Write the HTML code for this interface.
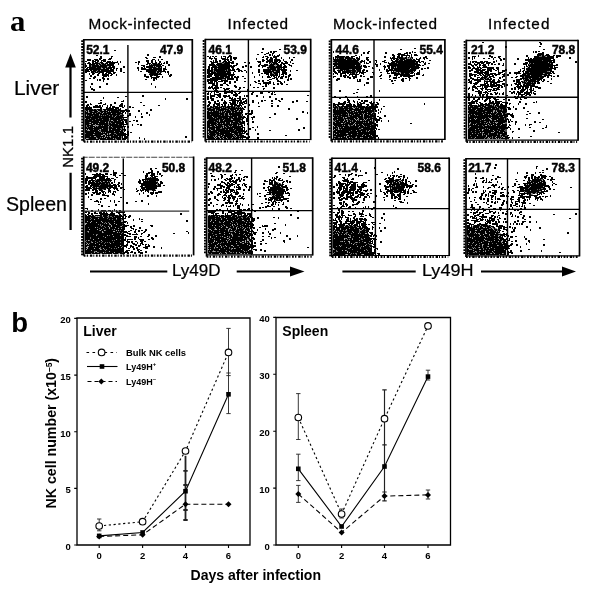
<!DOCTYPE html><html><head><meta charset="utf-8"><style>html,body{margin:0;padding:0;background:#fff;}svg{display:block;will-change:transform;}</style></head><body>
<svg width="600" height="600" viewBox="0 0 600 600">
<rect width="600" height="600" fill="#fff"/>
<path d="M147 55h2M159 57h2M99 59h1M100 58h2M109 59h2M111 58h1M89 60h2M100 59h1M103 60h1M87 60h2M87 60h2M92 61h2M95 60h2M97 60h1M97 61h2M104 60h1M147 61h2M155 61h1M158 60h1M92 62h1M95 61h1M101 61h1M105 61h1M109 62h2M117 62h1M146 61h2M147 62h2M147 62h1M151 61h2M88 63h1M93 63h1M110 63h1M109 63h1M111 63h2M112 62h1M120 62h1M138 62h2M148 62h1M155 63h2M159 62h2M166 62h2M89 64h2M106 63h2M106 64h2M106 64h2M112 63h2M114 63h1M138 64h1M149 64h1M158 64h1M164 63h1M85 64h1M110 65h2M110 64h1M112 65h2M118 64h1M159 64h1M159 65h2M161 64h1M168 65h2M85 66h2M108 65h2M112 65h2M143 66h2M109 67h2M112 66h2M112 66h1M123 67h2M144 66h1M146 67h2M85 67h1M110 68h1M112 67h2M113 68h2M113 67h2M137 68h2M141 68h2M144 67h1M165 67h1M86 69h1M87 68h1M109 68h1M110 69h1M110 68h1M111 68h1M120 69h2M141 69h2M143 69h2M163 69h2M164 69h2M116 70h1M138 70h1M144 69h2M146 70h2M163 69h1M163 70h2M85 71h2M85 70h2M87 71h2M87 71h1M110 70h2M111 71h2M120 71h2M163 70h2M163 70h1M88 71h1M91 72h2M106 72h2M108 71h2M109 72h2M113 71h1M163 71h2M165 72h1M85 72h2M93 73h2M92 73h2M103 73h1M113 73h2M167 72h2M102 74h2M108 73h2M111 74h1M168 74h1M89 74h1M97 75h2M105 74h2M106 75h1M90 76h2M97 75h2M104 75h2M105 76h2M107 75h2M116 75h1M144 75h2M157 75h1M170 75h2M169 76h2M91 76h1M94 77h2M108 76h1M148 77h1M151 77h1M156 77h2M156 77h2M157 76h1M93 78h2M146 77h2M151 78h1M153 78h2M158 77h1M162 77h1M102 78h2M104 79h1M107 79h2M153 79h2M97 80h1M103 80h1M153 80h2M156 79h1M99 80h2M103 81h1M91 84h2M106 84h2M151 84h1M90 87h1M99 87h1M100 87h1M155 87h1M91 89h2M93 90h2M142 96h2M86 97h2M103 98h1M165 99h1M186 99h2M85 102h2M123 101h1M90 104h1M100 103h2M114 103h2M121 104h2M88 105h1M105 104h1M110 105h2M87 105h1M97 106h1M107 106h1M120 105h2M120 106h2M86 106h2M95 106h2M95 107h2M98 107h2M99 106h2M102 106h1M114 107h1M119 106h1M121 106h2M124 106h1M129 107h2M87 108h1M87 108h2M89 107h1M93 107h2M93 107h1M100 108h2M106 108h2M107 108h1M110 107h1M112 108h2M112 107h2M85 108h1M86 108h1M87 108h1M90 109h1M90 108h2M108 109h2M109 108h1M108 109h2M111 109h2M115 108h2M117 108h2M117 108h1M120 109h1M123 111h2M123 111h2M125 110h2M126 111h2M138 111h2M150 110h2M127 111h1M128 111h2M125 113h1M129 114h2M141 114h1M146 113h2M130 114h1M149 115h1M123 116h1M123 116h1M127 116h2M127 116h2M135 117h1M141 117h2M124 120h2M126 120h1M136 121h2M125 122h2M126 124h2M140 125h2M123 125h1M132 125h1M127 127h2M123 127h2M124 129h1M123 131h2M125 130h1M127 132h2M123 133h1M127 133h2M127 135h2M123 135h2M124 137h2M126 137h2M185 137h2M122 138h1M123 139h1M139 138h1M124 139h2M144 139h1" stroke="#000" stroke-width="2" shape-rendering="crispEdges"/>
<path d="M114 50.5h2M96 55.5h2M100 56.5h2M111 56.5h2M145 57.5h2M153 57.5h2M154 57.5h2M94 59.5h2M94 59.5h2M146 58.5h2M153 59.5h2M104 59.5h2M108 59.5h2M151 60.5h2M152 59.5h2M161 59.5h2M89 60.5h2M94 61.5h2M95 60.5h2M102 60.5h2M103 61.5h2M107 61.5h2M85 61.5h2M88 62.5h2M92 62.5h2M135 62.5h2M147 61.5h2M151 62.5h2M108 62.5h2M115 62.5h2M166 63.5h2M166 63.5h2M87 63.5h2M108 64.5h2M110 64.5h2M147 63.5h2M149 63.5h2M160 64.5h2M163 63.5h2M85 65.5h2M111 64.5h2M146 64.5h2M85 66.5h2M109 65.5h2M109 66.5h2M112 65.5h2M141 65.5h2M162 65.5h2M147 66.5h2M108 68.5h2M109 67.5h2M87 69.5h2M112 69.5h2M116 68.5h2M165 69.5h2M87 70.5h2M146 70.5h2M88 71.5h2M110 70.5h2M140 71.5h2M146 71.5h2M163 71.5h2M88 71.5h2M104 71.5h2M123 72.5h2M146 71.5h2M161 71.5h2M97 72.5h2M102 73.5h2M105 73.5h2M110 73.5h2M114 72.5h2M98 73.5h2M111 74.5h2M113 73.5h2M160 74.5h2M92 74.5h2M150 75.5h2M149 74.5h2M102 75.5h2M103 76.5h2M110 75.5h2M150 76.5h2M150 75.5h2M144 76.5h2M152 77.5h2M152 77.5h2M158 76.5h2M155 77.5h2M89 78.5h2M155 78.5h2M155 78.5h2M145 79.5h2M85 80.5h2M117 97.5h2M125 96.5h2M100 100.5h2M121 101.5h2M140 102.5h2M98 103.5h2M90 104.5h2M103 104.5h2M120 104.5h2M143 105.5h2M158 105.5h2M97 106.5h2M99 107.5h2M114 107.5h2M85 107.5h2M86 107.5h2M89 108.5h2M90 107.5h2M96 107.5h2M109 108.5h2M111 108.5h2M117 107.5h2M122 107.5h2M132 107.5h2M122 112.5h2M129 115.5h2M124 117.5h2M125 117.5h2M133 120.5h2M129 121.5h2M124 124.5h2M137 124.5h2M124 126.5h2M130 132.5h2M124 133.5h2M123 134.5h2M125 134.5h2M125 134.5h2M124 135.5h2M125 138.5h2M126 137.5h2M123 138.5h2M123 138.5h2M95 62.5h3M100 62.5h3M92 63.5h8M101 63.5h3M105 63.5h1M152 63.5h5M90 64.5h5M96 64.5h2M99 64.5h2M102 64.5h4M107 64.5h1M151 64.5h1M153 64.5h7M89 65.5h2M92 65.5h7M100 65.5h9M149 65.5h12M89 66.5h2M92 66.5h15M148 66.5h5M154 66.5h1M156 66.5h6M88 67.5h8M97 67.5h4M102 67.5h5M108 67.5h2M148 67.5h8M158 67.5h2M161 67.5h1M89 68.5h12M103 68.5h2M106 68.5h3M149 68.5h3M153 68.5h9M89 69.5h20M148 69.5h14M90 70.5h2M93 70.5h4M98 70.5h2M101 70.5h7M148 70.5h9M158 70.5h4M92 71.5h4M97 71.5h10M148 71.5h8M157 71.5h5M95 72.5h3M99 72.5h5M148 72.5h8M157 72.5h2M160 72.5h1M150 73.5h8M159 73.5h2M150 74.5h10M152 75.5h1M154 75.5h4M85 109.5h8M94 109.5h2M97 109.5h5M103 109.5h14M118 109.5h3M86 110.5h2M89 110.5h8M98 110.5h4M104 110.5h2M107 110.5h16M85 111.5h1M87 111.5h1M89 111.5h3M94 111.5h4M100 111.5h8M109 111.5h1M111 111.5h8M120 111.5h3M85 112.5h3M90 112.5h7M98 112.5h2M101 112.5h2M104 112.5h2M107 112.5h14M122 112.5h1M85 113.5h7M93 113.5h2M96 113.5h6M103 113.5h8M112 113.5h4M117 113.5h6M85 114.5h1M87 114.5h12M100 114.5h7M108 114.5h12M122 114.5h1M85 115.5h1M87 115.5h1M89 115.5h4M94 115.5h5M100 115.5h1M102 115.5h1M104 115.5h1M106 115.5h3M110 115.5h2M113 115.5h3M117 115.5h2M120 115.5h4M85 116.5h6M92 116.5h20M113 116.5h2M116 116.5h7M85 117.5h16M102 117.5h12M115 117.5h9M86 118.5h4M91 118.5h7M99 118.5h10M110 118.5h12M123 118.5h1M85 119.5h3M89 119.5h6M96 119.5h6M103 119.5h6M110 119.5h10M121 119.5h3M85 120.5h7M93 120.5h16M110 120.5h1M113 120.5h4M118 120.5h5M85 121.5h14M100 121.5h8M109 121.5h4M114 121.5h7M122 121.5h2M85 122.5h4M91 122.5h14M106 122.5h2M109 122.5h1M111 122.5h13M85 123.5h7M93 123.5h5M99 123.5h9M109 123.5h2M112 123.5h3M116 123.5h8M85 124.5h4M91 124.5h4M96 124.5h12M109 124.5h9M119 124.5h5M85 125.5h1M87 125.5h6M99 125.5h2M102 125.5h1M104 125.5h5M110 125.5h12M123 125.5h1M85 126.5h1M87 126.5h2M90 126.5h5M96 126.5h1M98 126.5h10M109 126.5h2M112 126.5h12M85 127.5h2M88 127.5h5M94 127.5h14M109 127.5h3M113 127.5h10M85 128.5h17M103 128.5h5M109 128.5h7M117 128.5h3M122 128.5h1M85 129.5h1M87 129.5h1M89 129.5h4M94 129.5h5M101 129.5h7M109 129.5h2M112 129.5h9M122 129.5h2M85 130.5h2M90 130.5h8M99 130.5h1M101 130.5h7M109 130.5h11M121 130.5h2M85 131.5h14M101 131.5h13M115 131.5h8M85 132.5h9M95 132.5h6M102 132.5h1M104 132.5h1M106 132.5h13M120 132.5h4M86 133.5h21M108 133.5h1M111 133.5h3M116 133.5h8M85 134.5h8M95 134.5h8M105 134.5h2M108 134.5h1M110 134.5h6M117 134.5h6M85 135.5h16M103 135.5h2M106 135.5h7M114 135.5h9M85 136.5h5M91 136.5h3M96 136.5h9M106 136.5h1M108 136.5h1M111 136.5h7M119 136.5h2M122 136.5h1M85 137.5h11M97 137.5h3M101 137.5h1M103 137.5h1M105 137.5h5M111 137.5h10M122 137.5h1M85 138.5h1M89 138.5h7M98 138.5h8M107 138.5h6M114 138.5h1M116 138.5h5M122 138.5h1M86 139.5h13M100 139.5h15M117 139.5h4M122 139.5h1" stroke="#000" stroke-width="1" shape-rendering="crispEdges"/>
<path d="M101 64.5h1M152 64.5h1M91 65.5h1M91 66.5h1M96 67.5h1M101 67.5h1M107 67.5h1M156 67.5h1M160 67.5h1M97 70.5h1M156 71.5h1M94 72.5h1M98 72.5h1M161 72.5h1M149 73.5h1M158 73.5h1M153 75.5h1M93 109.5h1M96 109.5h1M117 109.5h1M85 110.5h1M92 111.5h1M99 111.5h1M119 111.5h1M89 112.5h1M97 112.5h1M100 112.5h1M106 112.5h1M95 113.5h1M116 113.5h1M86 114.5h1M107 114.5h1M120 114.5h1M121 114.5h1M88 115.5h1M93 115.5h1M99 115.5h1M101 115.5h1M103 115.5h1M105 115.5h1M109 115.5h1M112 115.5h1M116 115.5h1M119 115.5h1M91 116.5h1M112 116.5h1M101 117.5h1M114 117.5h1M90 118.5h1M98 118.5h1M122 118.5h1M88 119.5h1M95 119.5h1M102 119.5h1M109 119.5h1M120 119.5h1M92 120.5h1M109 120.5h1M108 121.5h1M113 121.5h1M89 122.5h1M110 122.5h1M108 123.5h1M111 123.5h1M108 124.5h1M118 124.5h1M86 125.5h1M95 125.5h1M98 125.5h1M101 125.5h1M109 125.5h1M86 126.5h1M89 126.5h1M97 126.5h1M87 127.5h1M108 127.5h1M112 127.5h1M108 128.5h1M120 128.5h1M121 128.5h1M93 129.5h1M99 129.5h1M121 129.5h1M87 130.5h1M100 130.5h1M123 130.5h1M99 131.5h1M100 131.5h1M103 132.5h1M119 132.5h1M85 133.5h1M107 133.5h1M114 133.5h1M115 133.5h1M94 134.5h1M109 134.5h1M116 134.5h1M113 135.5h1M90 136.5h1M109 136.5h1M121 136.5h1M96 137.5h1M100 137.5h1M110 137.5h1M121 137.5h1M88 138.5h1M97 138.5h1M115 138.5h1M115 139.5h1M116 139.5h1" stroke="#6a6a6a" stroke-width="1" shape-rendering="crispEdges"/>
<path d="M98 62.5h1M99 62.5h1M100 63.5h1M104 63.5h1M157 63.5h1M95 64.5h1M98 64.5h1M106 64.5h1M150 64.5h1M99 65.5h1M107 66.5h1M108 66.5h1M153 66.5h1M155 66.5h1M157 67.5h1M101 68.5h1M102 68.5h1M105 68.5h1M148 68.5h1M152 68.5h1M92 70.5h1M100 70.5h1M157 70.5h1M96 71.5h1M156 72.5h1M159 72.5h1M102 109.5h1M88 110.5h1M97 110.5h1M102 110.5h1M103 110.5h1M106 110.5h1M86 111.5h1M88 111.5h1M93 111.5h1M98 111.5h1M108 111.5h1M110 111.5h1M88 112.5h1M103 112.5h1M121 112.5h1M92 113.5h1M102 113.5h1M111 113.5h1M99 114.5h1M123 114.5h1M86 115.5h1M115 116.5h1M123 116.5h1M85 118.5h1M109 118.5h1M111 120.5h1M112 120.5h1M117 120.5h1M123 120.5h1M99 121.5h1M121 121.5h1M90 122.5h1M105 122.5h1M108 122.5h1M92 123.5h1M98 123.5h1M115 123.5h1M89 124.5h1M90 124.5h1M95 124.5h1M93 125.5h1M94 125.5h1M96 125.5h1M97 125.5h1M103 125.5h1M122 125.5h1M95 126.5h1M108 126.5h1M111 126.5h1M93 127.5h1M123 127.5h1M102 128.5h1M116 128.5h1M123 128.5h1M86 129.5h1M88 129.5h1M100 129.5h1M108 129.5h1M111 129.5h1M88 130.5h1M89 130.5h1M98 130.5h1M108 130.5h1M120 130.5h1M114 131.5h1M123 131.5h1M94 132.5h1M101 132.5h1M105 132.5h1M109 133.5h1M110 133.5h1M93 134.5h1M103 134.5h1M104 134.5h1M107 134.5h1M101 135.5h1M102 135.5h1M105 135.5h1M94 136.5h1M95 136.5h1M105 136.5h1M107 136.5h1M110 136.5h1M118 136.5h1M102 137.5h1M104 137.5h1M86 138.5h1M87 138.5h1M96 138.5h1M106 138.5h1M113 138.5h1M121 138.5h1M85 139.5h1M99 139.5h1M121 139.5h1" stroke="#a8a8a8" stroke-width="1" shape-rendering="crispEdges"/>
<path d="M83.8 39.7H192.3" fill="none" stroke="#000" stroke-width="1.5"/><path d="M192.3 39.0V141.2" fill="none" stroke="#000" stroke-width="1.7"/><path d="M83.8 39.0V141.7" fill="none" stroke="#000" stroke-width="1.8"/><path d="M81.2 41.2h1.9M81.2 44.1h1.9M81.2 47.0h1.9M81.2 49.9h1.9M81.2 52.8h1.9M81.2 55.7h1.9M81.2 58.6h1.9M81.2 61.5h1.9M81.2 64.4h1.9M81.2 67.3h1.9M81.2 70.2h1.9M81.2 73.1h1.9M81.2 76.0h1.9M81.2 78.9h1.9M81.2 81.8h1.9M81.2 84.7h1.9M81.2 87.6h1.9M81.2 90.5h1.9M81.2 93.4h1.9M81.2 96.3h1.9M81.2 99.2h1.9M81.2 102.1h1.9M81.2 105.0h1.9M81.2 107.9h1.9M81.2 110.8h1.9M81.2 113.7h1.9M81.2 116.6h1.9M81.2 119.5h1.9M81.2 122.4h1.9M81.2 125.3h1.9M81.2 128.2h1.9M81.2 131.1h1.9M81.2 134.0h1.9M81.2 136.9h1.9M81.2 139.8h1.9" stroke="#000" stroke-width="1.8"/><path d="M83.8 141.7H191.3" fill="none" stroke="#000" stroke-width="2.2" stroke-dasharray="1.8 1.2 1.4 1.8 2.4 1 1 1.6"/><path d="M127.9 45V140.6" fill="none" stroke="#000" stroke-width="1.4"/><path d="M83.8 92.4H192.3" fill="none" stroke="#000" stroke-width="1.4"/>
<text x="86.2" y="54" font-size="12" font-weight="bold" font-family='"Liberation Sans", sans-serif' stroke="#000" stroke-width="0.45">52.1</text>
<text x="159.9" y="54" font-size="12" font-weight="bold" font-family='"Liberation Sans", sans-serif' stroke="#000" stroke-width="0.45">47.9</text>
<path d="M262 49h2M270 52h2M268 53h1M273 52h2M272 55h1M269 55h2M279 55h1M228 57h1M229 56h2M263 57h1M263 57h1M275 57h2M274 56h1M277 56h2M210 57h1M214 58h1M221 57h1M225 57h1M227 58h1M230 58h1M230 57h2M235 58h2M270 58h2M273 57h2M209 58h2M211 59h1M216 59h1M225 58h1M233 58h2M270 59h2M272 59h1M275 59h2M281 58h1M289 58h1M215 59h2M222 59h2M224 59h2M227 59h1M230 60h2M234 59h2M256 59h1M262 60h2M266 59h2M270 59h1M271 60h1M271 60h2M283 60h1M213 61h1M224 61h2M227 60h2M262 60h2M262 61h2M269 60h2M275 61h2M276 60h1M277 61h1M278 60h2M291 60h2M215 62h2M219 61h2M223 62h2M223 62h2M225 62h2M266 62h2M266 62h2M270 61h2M270 62h2M272 61h1M274 61h2M276 61h2M285 62h2M290 62h1M215 62h2M217 62h1M228 63h2M228 62h2M232 62h2M258 62h2M259 62h2M269 63h2M281 63h2M287 63h1M226 63h2M229 64h1M229 64h1M236 64h2M249 63h1M260 63h1M282 63h1M283 64h2M209 65h2M210 65h1M211 64h2M213 65h2M213 64h1M266 65h2M280 65h2M228 65h2M230 66h1M233 66h2M263 66h2M284 66h2M291 66h1M209 66h1M213 66h2M230 66h2M231 67h1M245 66h2M250 67h2M258 66h2M264 66h2M283 67h1M285 67h2M208 68h2M208 67h1M212 67h2M242 67h2M262 67h1M281 67h1M284 67h1M211 68h2M232 68h2M281 69h1M211 69h2M211 70h1M232 70h2M233 70h2M238 70h2M259 70h1M266 70h2M284 70h1M285 70h1M207 70h1M209 71h1M211 71h2M238 71h2M258 70h2M263 70h2M264 71h1M264 70h2M281 70h2M282 71h1M285 70h2M284 71h1M285 71h1M290 71h1M209 71h2M258 72h2M263 71h1M265 72h2M282 72h2M283 71h1M207 72h2M207 72h2M246 72h1M264 73h1M267 72h2M279 73h1M282 73h2M285 73h1M285 73h2M209 74h1M211 73h2M233 73h1M252 73h1M266 74h2M265 73h1M268 74h1M282 74h2M283 73h2M285 74h1M286 74h1M209 74h2M208 75h1M209 75h1M211 75h1M211 75h1M230 75h1M259 75h1M266 74h1M270 75h1M271 75h1M275 74h2M276 75h2M289 75h2M208 76h2M210 75h2M232 75h2M268 75h1M271 75h2M275 75h2M279 75h1M283 75h1M288 76h2M207 76h2M207 77h1M208 77h2M210 76h2M229 76h1M229 77h1M237 77h2M254 77h1M268 77h2M271 76h1M273 76h2M276 76h1M278 77h1M285 77h2M215 78h2M215 78h2M229 77h1M231 77h2M236 78h2M262 77h1M267 77h1M268 77h2M281 77h1M210 79h2M212 79h2M213 79h2M214 79h2M214 78h2M215 78h2M227 78h2M228 79h2M230 79h2M276 79h1M280 78h1M281 78h2M288 78h1M207 80h2M212 80h2M212 79h1M216 80h2M227 80h1M227 79h1M230 79h1M232 79h2M276 79h1M276 79h1M277 79h1M290 79h2M209 80h2M211 81h1M222 81h1M236 80h2M258 81h2M287 80h2M207 81h1M210 82h1M211 81h2M211 82h1M212 82h1M214 82h1M216 82h1M221 81h2M224 82h1M225 81h1M226 81h2M235 82h1M269 82h2M277 81h2M208 83h2M212 83h1M224 83h2M229 82h2M229 82h1M234 82h1M263 83h1M267 83h2M270 83h1M273 83h1M280 83h1M284 82h1M210 83h2M216 84h2M224 83h2M260 84h1M264 83h1M280 83h2M281 84h2M213 85h2M221 85h2M250 85h1M268 84h1M277 84h2M212 85h2M216 85h2M220 85h2M234 86h2M265 86h2M209 87h1M211 87h2M212 88h1M214 88h2M215 87h1M216 87h2M235 87h2M273 88h2M209 88h2M215 89h2M217 88h2M226 89h2M239 88h2M213 89h1M224 90h2M225 90h1M263 89h1M214 91h2M215 90h1M215 90h1M247 90h2M211 92h1M216 91h2M225 91h1M226 92h2M228 92h2M229 91h1M230 92h2M268 92h1M272 92h1M274 92h1M208 93h1M214 93h1M217 92h1M218 92h1M224 92h1M224 93h2M226 92h2M234 92h2M260 93h2M261 93h2M269 92h1M207 94h2M210 94h1M231 93h2M271 94h2M210 95h1M218 95h1M217 95h2M219 94h2M219 95h1M220 95h1M233 95h1M235 94h2M236 95h2M251 94h2M211 96h2M213 96h2M223 96h2M226 96h1M235 96h2M234 95h1M244 96h1M246 96h2M256 96h2M207 97h2M210 96h2M210 97h2M218 96h2M219 97h2M225 96h2M226 96h1M263 97h1M269 97h2M229 98h2M239 97h2M207 99h2M211 99h2M212 99h2M222 99h1M231 99h2M232 98h1M239 98h2M243 99h1M281 99h2M213 100h1M232 100h2M231 100h1M234 100h2M242 99h2M246 100h1M275 99h2M221 100h2M224 101h1M237 101h2M239 100h2M245 101h1M261 101h2M208 102h2M215 102h1M217 101h2M240 101h2M243 102h2M245 101h2M252 102h2M271 101h2M296 101h2M209 103h1M210 103h1M210 103h1M214 102h2M215 102h1M223 103h2M232 102h2M234 102h2M241 102h1M241 103h2M244 103h1M292 102h2M219 103h1M224 103h1M225 103h2M230 104h2M230 103h1M231 104h1M237 103h1M239 103h2M246 103h1M258 103h1M213 105h1M216 104h2M217 105h2M231 105h2M232 104h2M234 105h2M249 105h1M207 106h2M209 105h1M214 105h1M218 106h2M222 105h1M224 105h2M228 105h1M228 106h1M234 105h1M235 105h2M236 106h2M239 105h2M271 106h2M207 106h1M208 106h1M238 106h2M241 106h1M277 106h2M242 108h1M244 107h2M288 109h2M242 109h2M243 109h1M248 111h2M242 112h1M251 111h2M251 111h1M242 112h1M251 113h2M302 112h2M307 113h1M245 114h1M249 114h2M250 114h2M274 114h2M247 116h2M243 117h1M253 117h2M243 118h1M244 117h1M247 118h2M246 119h2M252 119h1M296 119h2M246 120h2M243 122h2M242 122h1M248 122h1M252 122h2M243 123h2M244 124h1M244 125h1M257 127h1M244 129h1M303 128h2M249 129h2M243 131h2M242 131h1M255 130h1M298 130h2M246 131h1M244 132h2M242 135h1M257 134h2M242 137h2M243 137h2M244 137h2M249 137h1M246 138h2M257 138h2" stroke="#000" stroke-width="2" shape-rendering="crispEdges"/>
<path d="M279 49.5h2M275 51.5h2M261 52.5h2M266 53.5h2M272 53.5h2M264 54.5h2M257 54.5h2M207 56.5h2M228 56.5h2M212 56.5h2M215 56.5h2M223 56.5h2M227 57.5h2M262 57.5h2M265 56.5h2M266 56.5h2M267 57.5h2M293 57.5h2M221 58.5h2M275 57.5h2M211 58.5h2M225 59.5h2M230 58.5h2M277 59.5h2M277 59.5h2M215 60.5h2M267 60.5h2M271 59.5h2M274 59.5h2M279 60.5h2M279 60.5h2M210 61.5h2M257 61.5h2M259 61.5h2M263 60.5h2M267 60.5h2M269 61.5h2M269 60.5h2M278 60.5h2M279 61.5h2M228 62.5h2M244 62.5h2M268 61.5h2M278 62.5h2M284 61.5h2M211 62.5h2M213 62.5h2M226 62.5h2M228 63.5h2M230 62.5h2M231 63.5h2M232 63.5h2M285 63.5h2M286 63.5h2M292 63.5h2M212 64.5h2M281 63.5h2M210 65.5h2M211 65.5h2M228 64.5h2M259 64.5h2M264 64.5h2M284 65.5h2M288 64.5h2M233 65.5h2M235 65.5h2M261 65.5h2M265 65.5h2M279 66.5h2M289 65.5h2M230 66.5h2M231 66.5h2M242 67.5h2M231 67.5h2M237 68.5h2M281 67.5h2M208 69.5h2M280 68.5h2M282 69.5h2M283 68.5h2M231 70.5h2M236 69.5h2M280 69.5h2M208 70.5h2M230 70.5h2M232 70.5h2M234 71.5h2M240 70.5h2M244 70.5h2M284 71.5h2M296 70.5h2M207 71.5h2M209 71.5h2M241 71.5h2M258 72.5h2M263 71.5h2M207 73.5h2M207 73.5h2M208 72.5h2M212 72.5h2M211 72.5h2M229 73.5h2M207 73.5h2M210 73.5h2M210 74.5h2M211 74.5h2M229 73.5h2M233 74.5h2M261 73.5h2M281 74.5h2M207 75.5h2M231 75.5h2M232 74.5h2M231 74.5h2M272 75.5h2M275 75.5h2M207 76.5h2M242 76.5h2M212 77.5h2M213 77.5h2M234 77.5h2M234 76.5h2M274 77.5h2M278 76.5h2M282 76.5h2M227 77.5h2M228 78.5h2M244 78.5h2M269 77.5h2M272 78.5h2M274 77.5h2M275 77.5h2M276 78.5h2M214 78.5h2M225 78.5h2M270 79.5h2M273 78.5h2M276 78.5h2M214 80.5h2M223 80.5h2M225 80.5h2M230 79.5h2M262 80.5h2M267 80.5h2M269 79.5h2M212 80.5h2M214 81.5h2M216 80.5h2M220 81.5h2M222 80.5h2M254 81.5h2M262 80.5h2M279 81.5h2M207 81.5h2M216 82.5h2M218 81.5h2M244 81.5h2M255 82.5h2M262 81.5h2M264 82.5h2M213 83.5h2M229 83.5h2M265 82.5h2M223 83.5h2M226 84.5h2M258 83.5h2M265 83.5h2M265 83.5h2M268 83.5h2M273 84.5h2M286 84.5h2M265 84.5h2M215 85.5h2M227 85.5h2M262 86.5h2M208 87.5h2M253 87.5h2M208 88.5h2M220 87.5h2M228 88.5h2M243 87.5h2M257 87.5h2M263 88.5h2M223 88.5h2M226 89.5h2M227 89.5h2M226 89.5h2M231 90.5h2M238 89.5h2M215 90.5h2M219 91.5h2M252 92.5h2M216 92.5h2M231 93.5h2M235 93.5h2M239 92.5h2M238 93.5h2M214 94.5h2M216 94.5h2M225 93.5h2M274 94.5h2M211 95.5h2M226 96.5h2M228 95.5h2M307 95.5h2M207 96.5h2M224 97.5h2M228 96.5h2M210 98.5h2M216 97.5h2M237 98.5h2M239 97.5h2M234 98.5h2M244 98.5h2M229 100.5h2M234 99.5h2M252 100.5h2M264 100.5h2M278 100.5h2M211 100.5h2M235 100.5h2M279 101.5h2M306 101.5h2M224 101.5h2M279 101.5h2M218 103.5h2M229 102.5h2M233 103.5h2M234 103.5h2M241 102.5h2M214 103.5h2M214 103.5h2M218 104.5h2M221 104.5h2M224 103.5h2M235 104.5h2M242 104.5h2M244 103.5h2M271 103.5h2M208 104.5h2M216 104.5h2M208 105.5h2M258 106.5h2M243 109.5h2M246 113.5h2M245 114.5h2M244 117.5h2M247 117.5h2M251 117.5h2M269 117.5h2M243 121.5h2M246 121.5h2M243 121.5h2M247 123.5h2M247 124.5h2M243 127.5h2M252 127.5h2M269 130.5h2M244 132.5h2M243 133.5h2M246 133.5h2M242 135.5h2M246 134.5h2M285 135.5h2M243 137.5h2M222 62.5h2M272 62.5h5M217 63.5h5M224 63.5h3M271 63.5h1M273 63.5h5M216 64.5h12M270 64.5h5M276 64.5h3M215 65.5h1M217 65.5h12M269 65.5h5M277 65.5h3M214 66.5h3M218 66.5h12M269 66.5h6M276 66.5h4M214 67.5h16M267 67.5h14M214 68.5h3M218 68.5h12M268 68.5h1M270 68.5h6M277 68.5h3M214 69.5h13M228 69.5h3M268 69.5h8M277 69.5h3M214 70.5h11M226 70.5h1M228 70.5h3M268 70.5h3M272 70.5h8M214 71.5h1M216 71.5h14M268 71.5h6M276 71.5h4M213 72.5h3M217 72.5h9M227 72.5h4M269 72.5h3M273 72.5h6M213 73.5h17M270 73.5h2M274 73.5h4M214 74.5h16M272 74.5h2M275 74.5h1M214 75.5h13M228 75.5h2M215 76.5h4M220 76.5h9M216 77.5h8M225 77.5h3M217 78.5h9M218 79.5h4M225 79.5h1M210 106.5h2M213 106.5h5M219 106.5h1M221 106.5h5M227 106.5h6M234 106.5h1M237 106.5h1M210 107.5h4M215 107.5h7M223 107.5h1M225 107.5h5M231 107.5h4M236 107.5h1M238 107.5h1M240 107.5h1M207 108.5h4M213 108.5h7M221 108.5h5M228 108.5h15M207 109.5h8M216 109.5h13M230 109.5h6M237 109.5h2M240 109.5h2M208 110.5h7M216 110.5h1M218 110.5h6M225 110.5h1M227 110.5h3M231 110.5h3M235 110.5h3M239 110.5h4M207 111.5h2M211 111.5h1M213 111.5h6M220 111.5h1M222 111.5h1M224 111.5h7M232 111.5h5M239 111.5h1M241 111.5h2M207 112.5h12M220 112.5h1M222 112.5h3M226 112.5h5M232 112.5h2M235 112.5h8M207 113.5h17M225 113.5h3M229 113.5h13M207 114.5h3M211 114.5h8M220 114.5h4M225 114.5h3M229 114.5h12M242 114.5h1M207 115.5h14M222 115.5h2M225 115.5h3M230 115.5h1M232 115.5h9M242 115.5h1M207 116.5h5M213 116.5h24M238 116.5h4M207 117.5h6M214 117.5h3M218 117.5h10M229 117.5h4M234 117.5h3M238 117.5h5M207 118.5h8M216 118.5h6M223 118.5h8M232 118.5h9M242 118.5h1M209 119.5h10M220 119.5h4M225 119.5h6M233 119.5h10M208 120.5h9M218 120.5h1M220 120.5h3M224 120.5h16M242 120.5h1M207 121.5h7M215 121.5h4M220 121.5h13M235 121.5h6M242 121.5h1M207 122.5h9M217 122.5h8M226 122.5h4M231 122.5h7M239 122.5h4M207 123.5h10M218 123.5h2M221 123.5h1M223 123.5h2M226 123.5h4M231 123.5h1M233 123.5h6M240 123.5h3M207 124.5h3M211 124.5h5M217 124.5h20M238 124.5h4M207 125.5h7M215 125.5h2M218 125.5h4M224 125.5h4M229 125.5h3M233 125.5h4M238 125.5h1M241 125.5h2M207 126.5h3M212 126.5h3M216 126.5h7M224 126.5h1M226 126.5h3M230 126.5h1M232 126.5h11M207 127.5h14M222 127.5h1M224 127.5h2M227 127.5h14M242 127.5h1M207 128.5h1M209 128.5h6M216 128.5h4M222 128.5h11M234 128.5h9M207 129.5h1M209 129.5h1M211 129.5h4M216 129.5h9M226 129.5h2M229 129.5h6M236 129.5h7M207 130.5h4M213 130.5h21M235 130.5h8M207 131.5h1M209 131.5h8M218 131.5h19M238 131.5h5M207 132.5h1M209 132.5h10M220 132.5h10M231 132.5h10M242 132.5h1M207 133.5h2M210 133.5h5M216 133.5h16M234 133.5h4M239 133.5h4M207 134.5h1M209 134.5h7M217 134.5h2M220 134.5h4M225 134.5h9M235 134.5h3M239 134.5h3M207 135.5h2M210 135.5h5M217 135.5h4M222 135.5h11M234 135.5h1M236 135.5h7M207 136.5h6M214 136.5h1M216 136.5h2M220 136.5h3M224 136.5h10M235 136.5h1M237 136.5h2M240 136.5h3M207 137.5h7M215 137.5h1M217 137.5h2M220 137.5h2M223 137.5h3M227 137.5h5M233 137.5h2M236 137.5h7M208 138.5h7M216 138.5h4M221 138.5h2M224 138.5h3M228 138.5h3M232 138.5h7M240 138.5h1M242 138.5h1" stroke="#000" stroke-width="1" shape-rendering="crispEdges"/>
<path d="M220 62.5h1M224 62.5h1M271 62.5h1M222 63.5h1M223 63.5h1M275 64.5h1M216 65.5h1M275 66.5h1M267 68.5h1M269 68.5h1M280 68.5h1M213 69.5h1M227 69.5h1M225 70.5h1M227 70.5h1M213 71.5h1M215 71.5h1M230 71.5h1M275 71.5h1M216 72.5h1M272 73.5h1M273 73.5h1M274 74.5h1M222 79.5h1M224 79.5h1M233 106.5h1M235 106.5h1M207 107.5h1M209 107.5h1M214 107.5h1M224 107.5h1M230 107.5h1M235 107.5h1M237 107.5h1M239 107.5h1M211 108.5h1M212 108.5h1M226 108.5h1M227 108.5h1M242 109.5h1M217 110.5h1M226 110.5h1M230 110.5h1M238 110.5h1M210 111.5h1M219 111.5h1M223 111.5h1M231 111.5h1M238 111.5h1M219 112.5h1M221 112.5h1M234 112.5h1M224 113.5h1M210 114.5h1M219 114.5h1M224 114.5h1M241 114.5h1M221 115.5h1M224 115.5h1M228 115.5h1M231 115.5h1M241 115.5h1M242 116.5h1M217 117.5h1M237 117.5h1M215 118.5h1M222 118.5h1M231 118.5h1M241 118.5h1M208 119.5h1M219 119.5h1M224 119.5h1M217 120.5h1M240 120.5h1M214 121.5h1M234 121.5h1M216 122.5h1M238 122.5h1M220 123.5h1M225 123.5h1M232 123.5h1M239 123.5h1M216 124.5h1M237 124.5h1M222 125.5h1M228 125.5h1M211 126.5h1M223 126.5h1M231 126.5h1M221 127.5h1M226 127.5h1M220 128.5h1M221 128.5h1M208 129.5h1M210 129.5h1M225 129.5h1M235 129.5h1M212 130.5h1M234 130.5h1M217 131.5h1M237 131.5h1M241 132.5h1M209 133.5h1M215 133.5h1M238 133.5h1M216 134.5h1M219 134.5h1M234 134.5h1M238 134.5h1M209 135.5h1M215 135.5h1M213 136.5h1M234 136.5h1M239 136.5h1M222 137.5h1M235 137.5h1M207 138.5h1M227 138.5h1M231 138.5h1" stroke="#6a6a6a" stroke-width="1" shape-rendering="crispEdges"/>
<path d="M219 62.5h1M221 62.5h1M270 63.5h1M272 63.5h1M269 64.5h1M268 65.5h1M274 65.5h1M275 65.5h1M276 65.5h1M217 66.5h1M268 66.5h1M217 68.5h1M276 68.5h1M276 69.5h1M213 70.5h1M271 70.5h1M274 71.5h1M226 72.5h1M272 72.5h1M227 75.5h1M219 76.5h1M224 77.5h1M226 78.5h1M223 79.5h1M212 106.5h1M218 106.5h1M220 106.5h1M226 106.5h1M236 106.5h1M208 107.5h1M222 107.5h1M241 107.5h1M220 108.5h1M215 109.5h1M229 109.5h1M236 109.5h1M239 109.5h1M207 110.5h1M215 110.5h1M224 110.5h1M234 110.5h1M209 111.5h1M212 111.5h1M221 111.5h1M237 111.5h1M240 111.5h1M225 112.5h1M231 112.5h1M228 113.5h1M242 113.5h1M228 114.5h1M229 115.5h1M212 116.5h1M237 116.5h1M213 117.5h1M228 117.5h1M233 117.5h1M207 119.5h1M231 119.5h1M232 119.5h1M207 120.5h1M219 120.5h1M223 120.5h1M241 120.5h1M219 121.5h1M233 121.5h1M241 121.5h1M225 122.5h1M230 122.5h1M217 123.5h1M222 123.5h1M230 123.5h1M210 124.5h1M242 124.5h1M214 125.5h1M217 125.5h1M223 125.5h1M232 125.5h1M237 125.5h1M239 125.5h1M240 125.5h1M210 126.5h1M215 126.5h1M225 126.5h1M229 126.5h1M223 127.5h1M241 127.5h1M208 128.5h1M215 128.5h1M233 128.5h1M215 129.5h1M228 129.5h1M211 130.5h1M208 131.5h1M208 132.5h1M219 132.5h1M230 132.5h1M232 133.5h1M233 133.5h1M208 134.5h1M224 134.5h1M242 134.5h1M216 135.5h1M221 135.5h1M233 135.5h1M235 135.5h1M215 136.5h1M218 136.5h1M219 136.5h1M223 136.5h1M236 136.5h1M214 137.5h1M216 137.5h1M219 137.5h1M226 137.5h1M232 137.5h1M215 138.5h1M220 138.5h1M223 138.5h1M239 138.5h1M241 138.5h1" stroke="#a8a8a8" stroke-width="1" shape-rendering="crispEdges"/>
<path d="M205.3 39.5H310.7" fill="none" stroke="#000" stroke-width="1.5"/><path d="M310.7 38.8V140.1" fill="none" stroke="#000" stroke-width="1.7"/><path d="M205.3 38.8V141.5" fill="none" stroke="#000" stroke-width="1.8"/><path d="M202.70000000000002 41.0h1.9M202.70000000000002 43.9h1.9M202.70000000000002 46.8h1.9M202.70000000000002 49.7h1.9M202.70000000000002 52.6h1.9M202.70000000000002 55.5h1.9M202.70000000000002 58.4h1.9M202.70000000000002 61.3h1.9M202.70000000000002 64.2h1.9M202.70000000000002 67.1h1.9M202.70000000000002 70.0h1.9M202.70000000000002 72.9h1.9M202.70000000000002 75.8h1.9M202.70000000000002 78.7h1.9M202.70000000000002 81.6h1.9M202.70000000000002 84.5h1.9M202.70000000000002 87.4h1.9M202.70000000000002 90.3h1.9M202.70000000000002 93.2h1.9M202.70000000000002 96.1h1.9M202.70000000000002 99.0h1.9M202.70000000000002 101.9h1.9M202.70000000000002 104.8h1.9M202.70000000000002 107.7h1.9M202.70000000000002 110.6h1.9M202.70000000000002 113.5h1.9M202.70000000000002 116.4h1.9M202.70000000000002 119.3h1.9M202.70000000000002 122.2h1.9M202.70000000000002 125.1h1.9M202.70000000000002 128.0h1.9M202.70000000000002 130.9h1.9M202.70000000000002 133.8h1.9M202.70000000000002 136.7h1.9" stroke="#000" stroke-width="1.8"/><path d="M205.3 139.5H310.7" fill="none" stroke="#000" stroke-width="1.2"/><path d="M205.3 141.5H309.7" fill="none" stroke="#000" stroke-width="2.2" stroke-dasharray="1.8 1.2 1.4 1.8 2.4 1 1 1.6"/><path d="M248.4 39.5V139.5" fill="none" stroke="#000" stroke-width="1.4"/><path d="M205.3 91.4H310.7" fill="none" stroke="#000" stroke-width="1.4"/>
<text x="208.5" y="53.6" font-size="12" font-weight="bold" font-family='"Liberation Sans", sans-serif' stroke="#000" stroke-width="0.45">46.1</text>
<text x="283.5" y="53.6" font-size="12" font-weight="bold" font-family='"Liberation Sans", sans-serif' stroke="#000" stroke-width="0.45">53.9</text>
<path d="M333 52h1M363 53h2M367 53h2M409 53h2M412 52h1M385 53h2M399 54h2M361 55h1M392 55h2M398 54h1M407 55h1M401 56h2M401 55h1M404 55h1M406 56h1M409 56h1M411 56h1M411 55h1M416 55h1M335 57h2M337 56h2M337 56h1M338 57h2M384 57h2M393 56h2M393 56h2M425 57h2M333 58h1M335 57h2M356 58h2M356 58h2M359 57h1M390 58h1M392 58h1M397 57h2M399 58h1M398 57h2M411 58h2M425 57h2M366 59h1M366 59h2M393 58h2M396 59h1M416 59h1M420 58h1M423 58h2M424 59h1M391 59h1M394 59h1M416 59h1M418 60h1M418 60h2M333 60h2M358 61h1M361 61h2M364 61h1M367 60h2M333 61h1M418 61h2M333 62h2M364 63h1M366 63h1M369 62h2M376 62h1M384 62h1M392 62h2M417 62h1M423 62h1M425 63h1M388 63h1M375 64h1M376 65h2M380 64h1M389 64h2M418 65h1M424 64h2M363 66h1M387 66h2M389 65h2M418 66h1M364 67h2M384 66h1M388 67h2M333 67h1M333 68h1M365 67h2M372 68h1M384 67h2M388 68h1M389 68h1M417 68h1M427 68h2M334 69h1M333 69h2M360 68h2M417 68h2M363 70h2M384 69h1M386 70h2M390 70h1M389 69h1M421 69h2M333 71h2M334 70h1M339 71h2M360 70h1M362 71h2M379 70h1M391 70h2M419 71h1M342 72h1M366 71h2M393 72h2M334 72h2M338 72h1M339 72h2M339 72h2M343 73h2M343 73h2M342 73h1M343 73h2M359 73h1M361 73h2M387 73h1M391 72h1M418 73h1M419 73h1M335 73h2M337 74h1M347 73h2M362 73h2M363 74h1M391 73h2M414 74h1M416 74h2M417 73h2M418 74h2M333 74h1M345 74h1M351 74h2M353 74h1M354 74h2M355 75h1M373 74h1M381 75h1M396 75h2M398 74h2M409 75h1M416 74h1M340 75h2M349 75h1M352 76h1M356 75h1M360 76h2M380 76h1M389 76h2M394 75h2M396 75h2M405 76h2M405 76h2M408 75h2M411 76h2M423 75h1M333 77h1M340 76h2M343 76h2M344 77h2M347 77h2M353 77h2M370 77h2M371 77h2M389 77h1M400 76h2M403 76h2M403 76h2M407 76h1M349 78h2M355 77h2M393 78h1M395 78h2M396 77h1M408 77h2M416 78h2M417 78h1M337 79h2M339 79h1M393 78h2M359 80h2M367 79h2M401 80h1M402 79h2M403 79h1M336 80h2M357 80h1M359 81h2M391 81h2M409 80h1M402 81h2M366 83h1M367 83h2M364 85h1M339 91h2M379 91h1M370 96h2M345 97h2M347 98h1M357 97h1M347 98h1M347 100h2M348 101h2M361 101h2M364 101h2M379 100h1M353 101h1M366 101h2M343 103h1M344 102h2M354 102h1M357 102h1M363 103h2M371 102h1M338 103h2M341 104h2M343 103h2M370 103h2M333 104h1M333 104h2M342 105h1M346 105h2M350 105h2M359 105h2M360 104h2M368 105h1M371 104h2M371 104h1M375 105h2M377 104h2M424 104h1M334 106h2M335 106h1M337 106h2M337 105h2M343 105h1M347 105h1M348 105h2M353 105h2M355 106h1M357 105h2M367 106h2M371 105h2M373 105h1M371 107h2M374 107h2M374 107h1M376 107h2M373 107h1M374 109h2M381 109h1M378 110h1M373 111h1M375 111h2M380 112h1M378 113h1M374 115h2M374 116h2M384 116h2M373 116h1M379 118h2M374 119h1M375 118h1M375 120h1M378 120h2M376 121h2M388 121h1M376 122h2M381 121h1M374 125h2M373 127h2M373 126h1M377 126h1M374 127h2M376 129h1M374 129h1M374 131h2M375 133h1M373 133h2M374 135h2M374 136h2M376 136h2M374 138h2M374 138h2M373 138h1M378 138h1" stroke="#000" stroke-width="2" shape-rendering="crispEdges"/>
<path d="M414 48.5h2M400 49.5h2M368 51.5h2M406 52.5h2M414 52.5h2M397 54.5h2M404 53.5h2M406 53.5h2M414 54.5h2M402 54.5h2M404 55.5h2M416 55.5h2M351 56.5h2M353 56.5h2M355 55.5h2M392 55.5h2M398 55.5h2M403 55.5h2M408 55.5h2M414 55.5h2M358 58.5h2M367 57.5h2M366 57.5h2M396 58.5h2M419 58.5h2M357 59.5h2M358 59.5h2M394 58.5h2M395 58.5h2M426 58.5h2M384 60.5h2M391 60.5h2M391 60.5h2M393 59.5h2M416 59.5h2M417 59.5h2M418 59.5h2M429 60.5h2M375 60.5h2M392 61.5h2M421 61.5h2M360 61.5h2M360 62.5h2M363 61.5h2M382 61.5h2M385 62.5h2M391 62.5h2M392 62.5h2M419 62.5h2M367 63.5h2M391 62.5h2M390 63.5h2M428 63.5h2M389 63.5h2M388 63.5h2M390 64.5h2M388 65.5h2M389 64.5h2M418 64.5h2M422 65.5h2M364 65.5h2M368 66.5h2M383 66.5h2M419 65.5h2M365 66.5h2M376 66.5h2M384 67.5h2M418 67.5h2M335 67.5h2M335 68.5h2M335 68.5h2M365 67.5h2M372 68.5h2M386 69.5h2M424 68.5h2M339 69.5h2M359 69.5h2M388 70.5h2M392 70.5h2M337 70.5h2M359 71.5h2M386 71.5h2M387 71.5h2M333 71.5h2M372 72.5h2M393 71.5h2M336 73.5h2M344 72.5h2M359 72.5h2M364 72.5h2M380 72.5h2M388 73.5h2M393 73.5h2M340 73.5h2M344 73.5h2M352 74.5h2M357 74.5h2M395 73.5h2M411 73.5h2M350 74.5h2M401 75.5h2M410 75.5h2M413 75.5h2M422 75.5h2M340 76.5h2M345 75.5h2M355 75.5h2M363 76.5h2M379 76.5h2M402 75.5h2M409 75.5h2M334 76.5h2M355 76.5h2M355 76.5h2M398 77.5h2M409 76.5h2M353 78.5h2M380 78.5h2M405 78.5h2M409 78.5h2M409 78.5h2M389 79.5h2M357 81.5h2M394 80.5h2M392 83.5h2M357 89.5h2M353 93.5h2M356 92.5h2M334 96.5h2M366 96.5h2M357 97.5h2M365 97.5h2M339 98.5h2M358 99.5h2M347 102.5h2M348 102.5h2M359 102.5h2M333 103.5h2M344 103.5h2M349 103.5h2M369 102.5h2M373 102.5h2M376 102.5h2M335 104.5h2M339 104.5h2M340 103.5h2M343 104.5h2M349 103.5h2M357 103.5h2M360 104.5h2M361 103.5h2M372 103.5h2M377 104.5h2M347 105.5h2M354 105.5h2M357 104.5h2M360 105.5h2M366 104.5h2M366 104.5h2M333 105.5h2M383 106.5h2M373 106.5h2M376 107.5h2M374 113.5h2M374 113.5h2M374 115.5h2M374 115.5h2M377 116.5h2M373 116.5h2M374 117.5h2M375 118.5h2M376 119.5h2M380 118.5h2M375 120.5h2M373 124.5h2M374 123.5h2M376 124.5h2M410 123.5h2M376 125.5h2M375 128.5h2M378 129.5h2M375 136.5h2M340 56.5h5M346 56.5h3M337 57.5h7M345 57.5h5M351 57.5h2M400 57.5h3M405 57.5h2M408 57.5h1M335 58.5h1M337 58.5h1M339 58.5h5M345 58.5h10M399 58.5h8M410 58.5h1M412 58.5h1M334 59.5h12M347 59.5h5M353 59.5h3M396 59.5h3M400 59.5h5M406 59.5h6M413 59.5h2M334 60.5h25M395 60.5h3M399 60.5h4M404 60.5h12M333 61.5h25M394 61.5h23M335 62.5h2M338 62.5h21M393 62.5h2M396 62.5h19M416 62.5h1M333 63.5h27M392 63.5h5M398 63.5h20M333 64.5h27M391 64.5h27M334 65.5h3M338 65.5h17M356 65.5h4M361 65.5h1M391 65.5h24M416 65.5h2M334 66.5h1M336 66.5h26M391 66.5h5M397 66.5h21M336 67.5h25M391 67.5h3M395 67.5h1M397 67.5h21M337 68.5h24M391 68.5h19M411 68.5h6M340 69.5h9M352 69.5h3M356 69.5h5M392 69.5h1M394 69.5h15M410 69.5h6M341 70.5h2M344 70.5h1M346 70.5h10M357 70.5h3M393 70.5h23M343 71.5h8M352 71.5h4M357 71.5h2M396 71.5h17M414 71.5h1M346 72.5h9M356 72.5h2M395 72.5h1M398 72.5h1M401 72.5h9M411 72.5h3M350 73.5h1M352 73.5h3M356 73.5h1M396 73.5h4M401 73.5h3M405 73.5h4M410 73.5h2M399 74.5h11M333 106.5h1M335 106.5h2M338 106.5h2M341 106.5h24M366 106.5h2M369 106.5h2M333 107.5h5M339 107.5h4M344 107.5h4M349 107.5h3M354 107.5h1M356 107.5h1M358 107.5h15M334 108.5h2M337 108.5h1M339 108.5h14M355 108.5h4M360 108.5h4M365 108.5h9M333 109.5h3M337 109.5h1M339 109.5h5M345 109.5h3M349 109.5h15M365 109.5h6M372 109.5h2M333 110.5h19M354 110.5h7M362 110.5h1M364 110.5h10M333 111.5h13M347 111.5h3M351 111.5h4M356 111.5h1M358 111.5h16M333 112.5h14M348 112.5h5M354 112.5h13M368 112.5h4M334 113.5h14M349 113.5h9M359 113.5h3M363 113.5h1M365 113.5h6M372 113.5h2M333 114.5h8M342 114.5h4M347 114.5h1M349 114.5h1M351 114.5h3M355 114.5h8M364 114.5h3M368 114.5h5M333 115.5h1M335 115.5h1M337 115.5h1M339 115.5h9M349 115.5h3M353 115.5h7M361 115.5h2M364 115.5h5M370 115.5h4M333 116.5h8M342 116.5h6M350 116.5h13M364 116.5h10M334 117.5h3M338 117.5h5M344 117.5h1M347 117.5h10M358 117.5h5M364 117.5h8M333 118.5h10M344 118.5h10M355 118.5h3M359 118.5h4M364 118.5h3M368 118.5h1M370 118.5h4M333 119.5h4M338 119.5h6M345 119.5h1M348 119.5h1M350 119.5h5M356 119.5h1M359 119.5h5M365 119.5h1M367 119.5h5M373 119.5h1M334 120.5h1M336 120.5h8M345 120.5h2M348 120.5h2M351 120.5h1M353 120.5h3M357 120.5h1M359 120.5h1M362 120.5h1M364 120.5h1M366 120.5h4M371 120.5h1M373 120.5h1M335 121.5h4M340 121.5h3M344 121.5h3M348 121.5h4M353 121.5h15M369 121.5h3M373 121.5h1M333 122.5h2M336 122.5h9M346 122.5h4M351 122.5h4M356 122.5h7M364 122.5h1M366 122.5h2M369 122.5h5M333 123.5h8M343 123.5h1M345 123.5h9M355 123.5h19M333 124.5h15M349 124.5h4M354 124.5h1M356 124.5h2M359 124.5h3M363 124.5h9M334 125.5h8M343 125.5h1M345 125.5h3M350 125.5h1M353 125.5h2M356 125.5h7M364 125.5h6M371 125.5h3M333 126.5h1M335 126.5h2M338 126.5h11M350 126.5h9M360 126.5h4M365 126.5h1M367 126.5h7M333 127.5h5M339 127.5h1M341 127.5h2M344 127.5h14M359 127.5h11M371 127.5h3M333 128.5h3M337 128.5h1M339 128.5h22M363 128.5h11M333 129.5h1M335 129.5h3M340 129.5h1M342 129.5h17M361 129.5h13M334 130.5h17M352 130.5h4M357 130.5h9M367 130.5h2M370 130.5h3M333 131.5h3M337 131.5h12M350 131.5h11M362 131.5h4M367 131.5h1M369 131.5h5M333 132.5h24M358 132.5h16M333 133.5h1M335 133.5h4M340 133.5h6M348 133.5h26M333 134.5h3M337 134.5h14M352 134.5h5M358 134.5h5M364 134.5h5M370 134.5h4M333 135.5h14M349 135.5h13M363 135.5h2M366 135.5h5M372 135.5h2M333 136.5h1M336 136.5h8M345 136.5h1M347 136.5h9M357 136.5h15M373 136.5h1M333 137.5h5M340 137.5h1M342 137.5h4M347 137.5h2M350 137.5h1M352 137.5h3M357 137.5h3M363 137.5h5M369 137.5h5M333 138.5h1M335 138.5h12M348 138.5h4M353 138.5h20" stroke="#000" stroke-width="1" shape-rendering="crispEdges"/>
<path d="M344 57.5h1M350 57.5h1M403 57.5h1M404 57.5h1M409 57.5h1M410 57.5h1M338 58.5h1M398 58.5h1M408 58.5h1M411 58.5h1M352 59.5h1M333 60.5h1M398 60.5h1M334 62.5h1M337 62.5h1M415 62.5h1M360 63.5h1M397 63.5h1M360 64.5h1M415 65.5h1M335 66.5h1M396 66.5h1M335 67.5h1M361 67.5h1M338 69.5h1M349 69.5h1M350 69.5h1M409 69.5h1M345 70.5h1M356 70.5h1M351 71.5h1M356 71.5h1M395 71.5h1M355 72.5h1M396 72.5h1M400 72.5h1M410 72.5h1M351 73.5h1M404 73.5h1M409 73.5h1M334 106.5h1M337 106.5h1M340 106.5h1M368 106.5h1M338 107.5h1M348 107.5h1M353 107.5h1M355 107.5h1M357 107.5h1M336 108.5h1M338 108.5h1M364 108.5h1M338 109.5h1M344 109.5h1M364 109.5h1M350 111.5h1M347 112.5h1M353 112.5h1M373 112.5h1M333 113.5h1M348 113.5h1M358 113.5h1M362 113.5h1M341 114.5h1M346 114.5h1M334 115.5h1M336 115.5h1M338 115.5h1M348 115.5h1M352 115.5h1M369 115.5h1M341 116.5h1M348 116.5h1M349 116.5h1M337 117.5h1M363 117.5h1M372 117.5h1M373 117.5h1M343 118.5h1M363 118.5h1M369 118.5h1M344 119.5h1M347 119.5h1M349 119.5h1M358 119.5h1M366 119.5h1M333 120.5h1M335 120.5h1M347 120.5h1M350 120.5h1M352 120.5h1M358 120.5h1M363 120.5h1M333 121.5h1M334 121.5h1M339 121.5h1M352 121.5h1M368 121.5h1M372 121.5h1M345 122.5h1M363 122.5h1M365 122.5h1M344 123.5h1M348 124.5h1M358 124.5h1M372 124.5h1M342 125.5h1M349 125.5h1M351 125.5h1M352 125.5h1M370 125.5h1M337 126.5h1M349 126.5h1M364 126.5h1M366 126.5h1M340 127.5h1M358 127.5h1M370 127.5h1M336 128.5h1M361 128.5h1M339 129.5h1M341 129.5h1M359 129.5h1M360 129.5h1M333 130.5h1M351 130.5h1M366 130.5h1M349 131.5h1M366 131.5h1M339 133.5h1M357 134.5h1M363 134.5h1M348 135.5h1M334 136.5h1M335 136.5h1M356 136.5h1M372 136.5h1M338 137.5h1M339 137.5h1M351 137.5h1M355 137.5h1M361 137.5h1M352 138.5h1" stroke="#6a6a6a" stroke-width="1" shape-rendering="crispEdges"/>
<path d="M345 56.5h1M407 57.5h1M336 58.5h1M344 58.5h1M407 58.5h1M409 58.5h1M346 59.5h1M356 59.5h1M399 59.5h1M405 59.5h1M412 59.5h1M403 60.5h1M358 61.5h1M359 61.5h1M333 62.5h1M359 62.5h1M395 62.5h1M337 65.5h1M355 65.5h1M360 65.5h1M394 67.5h1M396 67.5h1M410 68.5h1M339 69.5h1M351 69.5h1M355 69.5h1M393 69.5h1M416 69.5h1M343 70.5h1M394 71.5h1M413 71.5h1M397 72.5h1M399 72.5h1M355 73.5h1M400 73.5h1M365 106.5h1M343 107.5h1M352 107.5h1M333 108.5h1M353 108.5h1M354 108.5h1M359 108.5h1M336 109.5h1M348 109.5h1M371 109.5h1M352 110.5h1M353 110.5h1M361 110.5h1M363 110.5h1M346 111.5h1M355 111.5h1M357 111.5h1M367 112.5h1M372 112.5h1M364 113.5h1M371 113.5h1M348 114.5h1M350 114.5h1M354 114.5h1M363 114.5h1M367 114.5h1M373 114.5h1M360 115.5h1M363 115.5h1M363 116.5h1M333 117.5h1M343 117.5h1M345 117.5h1M346 117.5h1M357 117.5h1M354 118.5h1M358 118.5h1M367 118.5h1M337 119.5h1M346 119.5h1M355 119.5h1M357 119.5h1M364 119.5h1M372 119.5h1M344 120.5h1M356 120.5h1M360 120.5h1M361 120.5h1M365 120.5h1M370 120.5h1M372 120.5h1M343 121.5h1M347 121.5h1M335 122.5h1M350 122.5h1M355 122.5h1M368 122.5h1M341 123.5h1M342 123.5h1M354 123.5h1M353 124.5h1M355 124.5h1M362 124.5h1M373 124.5h1M333 125.5h1M344 125.5h1M348 125.5h1M355 125.5h1M363 125.5h1M334 126.5h1M359 126.5h1M338 127.5h1M343 127.5h1M338 128.5h1M362 128.5h1M334 129.5h1M338 129.5h1M356 130.5h1M369 130.5h1M373 130.5h1M336 131.5h1M361 131.5h1M368 131.5h1M357 132.5h1M334 133.5h1M346 133.5h1M347 133.5h1M336 134.5h1M351 134.5h1M369 134.5h1M347 135.5h1M362 135.5h1M365 135.5h1M371 135.5h1M344 136.5h1M346 136.5h1M341 137.5h1M346 137.5h1M349 137.5h1M356 137.5h1M360 137.5h1M362 137.5h1M368 137.5h1M334 138.5h1M347 138.5h1M373 138.5h1" stroke="#a8a8a8" stroke-width="1" shape-rendering="crispEdges"/>
<path d="M331.3 39.8H444.9" fill="none" stroke="#000" stroke-width="1.5"/><path d="M444.9 39.099999999999994V140.0" fill="none" stroke="#000" stroke-width="1.7"/><path d="M331.3 39.099999999999994V141.3" fill="none" stroke="#000" stroke-width="1.8"/><path d="M328.7 41.3h1.9M328.7 44.2h1.9M328.7 47.1h1.9M328.7 50.0h1.9M328.7 52.9h1.9M328.7 55.8h1.9M328.7 58.7h1.9M328.7 61.6h1.9M328.7 64.5h1.9M328.7 67.4h1.9M328.7 70.3h1.9M328.7 73.2h1.9M328.7 76.1h1.9M328.7 79.0h1.9M328.7 81.9h1.9M328.7 84.8h1.9M328.7 87.7h1.9M328.7 90.6h1.9M328.7 93.5h1.9M328.7 96.4h1.9M328.7 99.3h1.9M328.7 102.2h1.9M328.7 105.1h1.9M328.7 108.0h1.9M328.7 110.9h1.9M328.7 113.8h1.9M328.7 116.7h1.9M328.7 119.6h1.9M328.7 122.5h1.9M328.7 125.4h1.9M328.7 128.3h1.9M328.7 131.2h1.9M328.7 134.1h1.9M328.7 137.0h1.9" stroke="#000" stroke-width="1.8"/><path d="M331.3 139.4H444.9" fill="none" stroke="#000" stroke-width="1.2"/><path d="M331.3 141.3H443.9" fill="none" stroke="#000" stroke-width="2.2" stroke-dasharray="1.8 1.2 1.4 1.8 2.4 1 1 1.6"/><path d="M374 39.8V139.4" fill="none" stroke="#000" stroke-width="1.4"/><path d="M331.3 97.4H444.9" fill="none" stroke="#000" stroke-width="1.4"/>
<text x="335.5" y="54.4" font-size="12" font-weight="bold" font-family='"Liberation Sans", sans-serif' stroke="#000" stroke-width="0.45">44.6</text>
<text x="419.5" y="54.4" font-size="12" font-weight="bold" font-family='"Liberation Sans", sans-serif' stroke="#000" stroke-width="0.45">55.4</text>
<path d="M540 44h2M505 47h2M533 52h1M535 52h2M468 53h2M542 53h2M539 54h1M540 54h2M540 55h1M542 54h1M537 55h2M537 56h2M538 56h1M537 56h2M547 56h1M547 55h2M478 56h1M489 56h2M491 57h2M526 56h2M534 57h2M548 56h1M552 57h2M556 57h2M558 56h2M559 56h2M472 58h1M498 57h2M550 57h2M551 57h1M569 58h2M474 58h1M528 58h1M530 59h2M551 58h2M552 58h2M553 59h1M472 59h1M493 59h1M500 60h2M503 59h2M517 59h2M530 60h1M500 60h2M525 60h2M527 60h2M553 60h2M472 62h2M486 62h2M494 62h1M493 62h1M496 61h1M528 61h2M470 62h1M475 62h2M478 63h2M480 62h1M481 63h1M484 62h1M488 63h2M553 62h2M575 62h2M469 64h2M477 63h2M481 63h1M482 63h2M486 63h2M503 64h1M525 64h2M526 63h2M468 64h2M469 64h2M475 65h2M474 64h1M477 64h1M484 65h2M488 65h1M491 64h2M498 64h2M514 64h2M524 64h1M523 64h2M471 65h1M472 66h2M479 65h2M485 66h1M552 66h1M554 66h1M556 65h2M477 67h1M479 66h1M524 67h1M526 66h1M468 68h2M470 68h1M483 67h2M492 68h2M493 68h1M496 68h1M555 68h1M472 69h1M473 68h2M488 68h1M489 68h2M489 68h1M489 69h1M491 68h1M491 68h1M497 68h2M497 69h2M524 69h1M551 68h2M554 68h2M554 69h2M471 70h2M477 69h2M482 70h1M488 69h2M488 70h2M491 69h1M490 69h1M505 70h2M520 70h1M524 70h1M479 70h2M483 70h2M487 71h2M490 71h2M498 71h1M502 71h2M503 71h2M551 71h1M469 71h2M475 72h2M476 71h2M477 72h2M478 71h1M481 71h2M481 72h2M485 72h2M487 71h2M488 72h1M549 72h2M551 71h1M552 72h2M474 72h2M480 72h2M485 73h2M485 73h2M486 73h1M487 73h2M488 72h1M487 72h1M498 73h2M498 73h2M509 73h2M516 73h2M523 73h1M469 74h2M477 73h2M490 74h2M492 74h1M494 74h2M499 74h1M500 73h1M514 73h2M518 73h2M549 73h1M471 75h2M474 75h1M485 75h2M487 74h2M495 75h2M504 74h1M516 74h1M548 75h2M492 76h2M503 76h2M507 75h2M521 76h1M522 76h1M522 75h2M547 76h2M551 76h1M469 76h2M474 76h2M482 77h1M489 77h2M520 76h1M521 76h2M547 77h2M557 76h2M477 78h1M488 78h1M502 77h1M470 78h2M472 79h2M480 79h2M482 78h2M491 79h1M499 78h2M520 79h2M551 79h1M475 80h2M477 80h2M478 80h2M481 79h2M490 80h1M489 80h2M490 79h2M493 80h2M498 80h1M503 80h2M516 80h2M543 80h2M468 80h2M471 81h1M474 80h2M479 81h2M479 80h2M513 81h2M518 81h2M541 80h1M477 82h2M489 81h1M492 81h2M494 81h1M497 82h2M514 81h1M517 81h1M519 82h1M522 82h2M475 83h2M484 83h1M491 82h2M495 83h2M497 82h2M498 82h2M516 83h1M517 82h2M516 82h2M518 83h2M537 83h2M537 82h2M470 83h2M471 83h1M475 84h1M476 83h2M484 84h2M484 84h2M487 84h1M490 83h2M490 84h2M493 83h2M493 83h2M494 84h1M502 84h2M504 84h1M520 83h1M533 84h2M534 83h2M539 83h1M481 85h1M485 85h1M488 85h1M492 85h2M496 85h2M506 85h2M517 85h2M531 85h1M531 85h2M531 84h1M480 85h1M482 85h2M484 86h1M484 85h1M486 86h2M495 86h2M511 85h1M529 85h2M530 86h2M534 85h1M472 87h2M472 87h2M474 86h1M484 87h1M485 86h2M486 86h1M490 86h2M491 87h1M493 86h2M498 87h2M501 87h2M504 86h1M517 87h2M519 87h2M520 86h2M527 87h2M526 86h1M530 86h2M532 86h2M536 87h2M469 88h1M472 87h1M475 88h2M475 87h1M475 88h2M482 87h1M485 87h2M485 88h2M491 87h2M514 88h2M517 87h1M518 87h2M522 87h2M525 88h2M527 87h2M535 87h2M536 87h1M468 89h1M477 89h1M493 89h2M496 89h2M515 89h1M519 88h1M522 88h2M525 89h1M530 88h2M538 88h1M538 88h2M540 88h1M472 89h1M498 89h1M511 89h2M518 89h1M527 89h1M527 90h1M531 90h1M533 89h1M473 90h1M482 90h1M487 90h1M490 91h1M493 90h1M493 90h2M520 91h2M522 91h1M523 90h2M517 92h1M521 92h2M530 91h2M530 92h1M478 93h2M480 93h1M480 92h2M480 93h2M485 92h2M513 92h2M514 93h1M517 92h2M518 93h2M520 92h1M524 93h1M524 93h2M526 92h2M468 94h2M480 93h1M485 93h1M485 93h1M495 94h2M497 93h1M499 94h1M503 93h1M511 93h2M518 94h2M519 94h1M519 94h2M520 94h1M526 94h2M528 93h2M531 93h1M533 93h1M534 94h2M486 95h2M487 94h1M490 94h2M502 94h2M516 94h1M528 94h2M529 95h2M472 95h1M480 96h1M518 95h1M522 95h1M468 97h2M471 97h1M475 96h1M482 96h2M489 97h2M490 97h1M492 97h1M514 97h2M517 97h2M523 97h2M468 98h1M474 98h1M478 98h2M486 98h2M486 97h1M493 98h2M495 98h1M497 97h2M517 98h1M521 97h1M522 97h1M523 97h2M468 99h1M473 99h2M479 99h1M482 99h1M490 98h1M494 98h2M515 98h2M520 98h1M525 98h2M468 99h2M485 100h1M486 99h2M489 99h1M508 100h2M477 101h1M489 101h2M495 101h2M495 100h2M471 102h2M472 102h1M472 101h1M473 102h2M475 101h1M476 101h2M492 102h2M496 102h2M468 103h2M473 103h2M476 103h1M489 103h1M490 103h2M495 103h2M497 102h2M506 103h2M519 102h2M536 102h1M470 104h2M482 104h1M485 104h2M488 104h2M491 104h2M493 104h2M497 103h1M497 103h1M499 103h1M505 104h1M505 103h2M506 103h1M509 104h1M518 104h1M525 104h2M469 104h1M470 104h1M478 105h1M497 104h2M500 105h2M501 104h1M505 106h2M505 107h1M513 107h1M523 108h2M508 109h1M509 109h2M515 109h2M504 109h2M506 110h1M509 109h2M506 111h1M505 112h1M507 114h2M538 113h2M505 115h2M508 114h2M510 115h2M512 114h1M507 116h1M505 117h1M506 116h1M511 116h2M512 116h2M504 118h2M504 118h1M507 119h1M510 120h1M505 121h2M508 120h1M508 122h2M534 122h2M515 122h2M515 124h1M509 125h1M525 125h1M529 125h1M504 126h2M546 126h1M505 128h2M508 127h1M506 128h1M506 128h2M510 129h1M518 129h2M533 131h2M512 132h1M505 134h1M505 134h2M506 137h1M505 137h2M506 137h2M505 138h2M507 138h2M512 138h1M512 138h1" stroke="#000" stroke-width="2" shape-rendering="crispEdges"/>
<path d="M482 42.5h2M539 42.5h2M539 46.5h2M543 49.5h2M538 51.5h2M538 53.5h2M542 54.5h2M546 54.5h2M548 55.5h2M553 55.5h2M556 55.5h2M468 57.5h2M472 56.5h2M474 56.5h2M499 56.5h2M549 56.5h2M468 58.5h2M488 58.5h2M494 57.5h2M499 58.5h2M483 58.5h2M526 59.5h2M529 59.5h2M528 60.5h2M529 60.5h2M551 60.5h2M481 61.5h2M474 61.5h2M480 62.5h2M484 61.5h2M525 62.5h2M478 62.5h2M489 62.5h2M483 64.5h2M524 63.5h2M482 65.5h2M494 64.5h2M502 65.5h2M554 65.5h2M468 66.5h2M472 65.5h2M475 65.5h2M553 65.5h2M479 67.5h2M482 67.5h2M485 66.5h2M485 67.5h2M555 67.5h2M475 68.5h2M477 67.5h2M487 67.5h2M487 68.5h2M488 67.5h2M492 68.5h2M522 68.5h2M556 67.5h2M475 69.5h2M477 69.5h2M480 68.5h2M484 69.5h2M487 69.5h2M552 68.5h2M553 68.5h2M553 68.5h2M479 69.5h2M482 70.5h2M493 69.5h2M523 70.5h2M477 70.5h2M487 70.5h2M495 70.5h2M518 71.5h2M475 72.5h2M478 72.5h2M482 72.5h2M484 72.5h2M501 72.5h2M519 71.5h2M522 71.5h2M469 73.5h2M484 73.5h2M485 73.5h2M490 73.5h2M519 73.5h2M548 72.5h2M553 73.5h2M470 73.5h2M473 74.5h2M479 73.5h2M481 73.5h2M481 73.5h2M489 74.5h2M491 73.5h2M490 74.5h2M493 73.5h2M550 73.5h2M475 74.5h2M475 74.5h2M477 75.5h2M479 74.5h2M482 74.5h2M492 75.5h2M497 74.5h2M502 74.5h2M547 75.5h2M549 75.5h2M549 75.5h2M480 75.5h2M483 75.5h2M488 75.5h2M488 75.5h2M492 75.5h2M516 76.5h2M523 76.5h2M545 75.5h2M553 76.5h2M481 77.5h2M491 76.5h2M511 77.5h2M516 76.5h2M477 77.5h2M478 77.5h2M481 78.5h2M493 77.5h2M515 77.5h2M522 77.5h2M483 79.5h2M482 79.5h2M493 79.5h2M519 79.5h2M518 79.5h2M521 78.5h2M541 78.5h2M475 79.5h2M487 79.5h2M498 80.5h2M503 79.5h2M513 80.5h2M519 79.5h2M486 80.5h2M500 81.5h2M501 81.5h2M516 80.5h2M521 81.5h2M542 81.5h2M547 81.5h2M468 82.5h2M469 81.5h2M477 81.5h2M484 81.5h2M486 82.5h2M487 81.5h2M488 81.5h2M490 81.5h2M492 82.5h2M537 82.5h2M486 83.5h2M493 83.5h2M514 83.5h2M518 82.5h2M550 83.5h2M474 84.5h2M473 83.5h2M474 83.5h2M475 84.5h2M480 84.5h2M482 84.5h2M518 84.5h2M534 83.5h2M473 85.5h2M480 85.5h2M484 85.5h2M485 85.5h2M498 84.5h2M498 85.5h2M515 84.5h2M515 84.5h2M519 84.5h2M477 86.5h2M478 86.5h2M491 85.5h2M500 85.5h2M516 86.5h2M524 86.5h2M524 86.5h2M533 86.5h2M473 87.5h2M479 86.5h2M488 86.5h2M490 86.5h2M518 87.5h2M526 87.5h2M527 87.5h2M480 88.5h2M482 88.5h2M486 87.5h2M494 88.5h2M497 88.5h2M497 87.5h2M519 88.5h2M485 89.5h2M490 89.5h2M514 89.5h2M525 88.5h2M529 89.5h2M472 90.5h2M478 90.5h2M481 89.5h2M488 89.5h2M492 90.5h2M493 90.5h2M498 89.5h2M521 89.5h2M477 91.5h2M478 91.5h2M495 90.5h2M517 91.5h2M523 90.5h2M532 90.5h2M534 91.5h2M475 91.5h2M486 92.5h2M488 91.5h2M509 91.5h2M522 91.5h2M525 92.5h2M483 92.5h2M494 92.5h2M519 92.5h2M479 94.5h2M487 93.5h2M528 93.5h2M468 95.5h2M479 95.5h2M479 95.5h2M482 94.5h2M483 94.5h2M491 94.5h2M506 95.5h2M518 94.5h2M521 94.5h2M523 94.5h2M525 95.5h2M487 96.5h2M489 96.5h2M491 96.5h2M521 95.5h2M471 97.5h2M474 97.5h2M482 97.5h2M516 97.5h2M518 97.5h2M468 97.5h2M478 98.5h2M481 97.5h2M483 97.5h2M487 98.5h2M505 98.5h2M524 98.5h2M527 97.5h2M477 99.5h2M494 99.5h2M503 99.5h2M520 99.5h2M485 100.5h2M495 100.5h2M497 99.5h2M468 100.5h2M484 100.5h2M484 101.5h2M489 100.5h2M500 101.5h2M474 101.5h2M479 102.5h2M500 101.5h2M499 101.5h2M502 102.5h2M503 102.5h2M533 102.5h2M468 103.5h2M469 102.5h2M473 103.5h2M480 103.5h2M485 103.5h2M497 102.5h2M472 103.5h2M476 103.5h2M496 104.5h2M500 104.5h2M500 104.5h2M501 104.5h2M505 104.5h2M509 103.5h2M504 105.5h2M507 107.5h2M508 107.5h2M505 109.5h2M505 110.5h2M527 111.5h2M506 114.5h2M529 113.5h2M526 114.5h2M512 117.5h2M505 119.5h2M504 119.5h2M526 118.5h2M542 119.5h2M511 121.5h2M539 122.5h2M505 124.5h2M530 124.5h2M504 125.5h2M505 124.5h2M509 125.5h2M504 125.5h2M505 125.5h2M508 127.5h2M529 127.5h2M545 127.5h2M506 128.5h2M542 128.5h2M506 128.5h2M505 132.5h2M512 131.5h2M558 132.5h2M507 135.5h2M507 135.5h2M530 136.5h2M508 137.5h2M518 137.5h2M539 55.5h2M542 55.5h2M545 55.5h2M536 56.5h3M542 56.5h3M547 56.5h2M534 57.5h16M533 58.5h18M532 59.5h19M531 60.5h11M543 60.5h9M530 61.5h22M529 62.5h19M549 62.5h4M529 63.5h1M531 63.5h2M534 63.5h16M551 63.5h2M528 64.5h1M530 64.5h23M528 65.5h25M527 66.5h1M529 66.5h23M528 67.5h2M531 67.5h18M550 67.5h2M526 68.5h26M526 69.5h26M527 70.5h24M525 71.5h22M525 72.5h4M530 72.5h20M524 73.5h19M545 73.5h4M524 74.5h2M527 74.5h20M484 75.5h2M487 75.5h1M524 75.5h6M531 75.5h11M544 75.5h3M484 76.5h4M525 76.5h21M483 77.5h4M523 77.5h1M525 77.5h14M540 77.5h4M484 78.5h2M487 78.5h2M523 78.5h5M529 78.5h2M532 78.5h11M485 79.5h3M523 79.5h1M525 79.5h4M530 79.5h11M484 80.5h1M524 80.5h12M537 80.5h3M485 81.5h2M524 81.5h1M526 81.5h1M528 81.5h10M522 82.5h4M527 82.5h4M532 82.5h1M534 82.5h2M524 83.5h10M523 84.5h2M526 84.5h5M523 85.5h6M480 104.5h10M493 104.5h1M468 105.5h9M478 105.5h6M485 105.5h7M493 105.5h1M495 105.5h4M500 105.5h4M468 106.5h1M470 106.5h3M474 106.5h7M482 106.5h4M488 106.5h6M495 106.5h1M497 106.5h8M468 107.5h10M480 107.5h3M484 107.5h13M498 107.5h7M468 108.5h3M472 108.5h12M485 108.5h6M492 108.5h3M496 108.5h3M500 108.5h5M468 109.5h8M477 109.5h6M484 109.5h15M501 109.5h1M503 109.5h2M469 110.5h6M476 110.5h17M495 110.5h1M497 110.5h5M503 110.5h2M468 111.5h9M478 111.5h7M487 111.5h6M495 111.5h1M497 111.5h8M468 112.5h14M483 112.5h8M492 112.5h1M494 112.5h3M498 112.5h3M502 112.5h3M469 113.5h16M486 113.5h10M497 113.5h5M503 113.5h2M468 114.5h3M472 114.5h2M475 114.5h8M484 114.5h4M489 114.5h1M491 114.5h4M496 114.5h6M503 114.5h2M468 115.5h1M470 115.5h5M476 115.5h1M478 115.5h13M492 115.5h6M499 115.5h6M468 116.5h1M470 116.5h33M504 116.5h1M468 117.5h20M489 117.5h2M492 117.5h7M500 117.5h5M468 118.5h6M475 118.5h1M477 118.5h8M486 118.5h3M491 118.5h13M468 119.5h2M471 119.5h4M476 119.5h6M483 119.5h1M485 119.5h5M492 119.5h5M498 119.5h6M468 120.5h12M481 120.5h10M492 120.5h2M496 120.5h9M468 121.5h16M486 121.5h3M490 121.5h15M468 122.5h2M471 122.5h9M481 122.5h6M488 122.5h1M490 122.5h3M494 122.5h1M498 122.5h7M468 123.5h1M471 123.5h5M477 123.5h7M485 123.5h1M487 123.5h3M491 123.5h5M497 123.5h6M468 124.5h1M470 124.5h3M474 124.5h1M476 124.5h12M489 124.5h4M494 124.5h7M502 124.5h3M468 125.5h10M479 125.5h3M483 125.5h2M487 125.5h2M490 125.5h1M492 125.5h4M497 125.5h3M501 125.5h4M468 126.5h1M471 126.5h12M484 126.5h21M468 127.5h1M470 127.5h35M469 128.5h9M479 128.5h6M486 128.5h1M488 128.5h10M499 128.5h6M468 129.5h7M476 129.5h6M484 129.5h5M490 129.5h10M501 129.5h4M468 130.5h11M480 130.5h2M483 130.5h10M494 130.5h3M498 130.5h6M468 131.5h3M472 131.5h3M476 131.5h18M495 131.5h4M500 131.5h5M468 132.5h12M481 132.5h1M484 132.5h7M494 132.5h9M504 132.5h1M468 133.5h4M473 133.5h2M476 133.5h2M479 133.5h3M483 133.5h5M489 133.5h8M498 133.5h7M468 134.5h14M483 134.5h1M485 134.5h3M489 134.5h8M498 134.5h2M502 134.5h3M468 135.5h2M471 135.5h6M478 135.5h4M483 135.5h3M487 135.5h13M501 135.5h4M468 136.5h18M487 136.5h5M493 136.5h3M497 136.5h3M501 136.5h1M503 136.5h2M468 137.5h3M472 137.5h3M476 137.5h9M486 137.5h2M489 137.5h1M491 137.5h1M493 137.5h2M496 137.5h5M502 137.5h1M468 138.5h6M475 138.5h9M485 138.5h2M490 138.5h2M493 138.5h3M497 138.5h1M499 138.5h1M501 138.5h4" stroke="#000" stroke-width="1" shape-rendering="crispEdges"/>
<path d="M541 55.5h1M539 56.5h1M540 56.5h1M541 56.5h1M545 56.5h1M542 60.5h1M530 63.5h1M533 63.5h1M550 63.5h1M529 64.5h1M549 67.5h1M526 70.5h1M547 71.5h1M548 71.5h1M529 72.5h1M544 73.5h1M526 74.5h1M486 75.5h1M524 76.5h1M488 77.5h1M524 77.5h1M539 77.5h1M483 78.5h1M486 78.5h1M528 78.5h1M524 79.5h1M487 80.5h1M523 81.5h1M525 81.5h1M526 82.5h1M531 82.5h1M533 82.5h1M523 83.5h1M531 84.5h1M491 104.5h1M492 105.5h1M473 106.5h1M481 106.5h1M487 106.5h1M494 106.5h1M496 106.5h1M478 107.5h1M484 108.5h1M495 108.5h1M499 108.5h1M499 109.5h1M500 109.5h1M502 109.5h1M468 110.5h1M493 110.5h1M496 110.5h1M502 110.5h1M477 111.5h1M485 111.5h1M486 111.5h1M494 111.5h1M482 112.5h1M485 113.5h1M496 113.5h1M471 114.5h1M495 114.5h1M469 115.5h1M475 115.5h1M477 115.5h1M491 115.5h1M498 115.5h1M469 116.5h1M488 117.5h1M499 117.5h1M485 118.5h1M504 118.5h1M504 119.5h1M480 120.5h1M491 120.5h1M494 120.5h1M484 121.5h1M485 121.5h1M489 121.5h1M480 122.5h1M487 122.5h1M493 122.5h1M496 122.5h1M470 123.5h1M476 123.5h1M484 123.5h1M490 123.5h1M478 125.5h1M482 125.5h1M489 125.5h1M500 125.5h1M469 126.5h1M483 126.5h1M469 127.5h1M468 128.5h1M485 128.5h1M487 128.5h1M498 128.5h1M483 129.5h1M500 129.5h1M479 130.5h1M497 130.5h1M504 130.5h1M471 131.5h1M475 131.5h1M482 132.5h1M492 132.5h1M475 133.5h1M478 133.5h1M482 133.5h1M488 133.5h1M497 133.5h1M484 134.5h1M488 134.5h1M497 134.5h1M501 134.5h1M470 135.5h1M482 135.5h1M500 135.5h1M492 136.5h1M500 136.5h1M471 137.5h1M485 137.5h1M490 137.5h1M492 137.5h1M501 137.5h1M474 138.5h1M484 138.5h1M487 138.5h1M488 138.5h1M492 138.5h1M500 138.5h1" stroke="#6a6a6a" stroke-width="1" shape-rendering="crispEdges"/>
<path d="M544 55.5h1M546 56.5h1M548 62.5h1M528 66.5h1M527 67.5h1M530 67.5h1M549 71.5h1M543 73.5h1M547 74.5h1M530 75.5h1M542 75.5h1M543 75.5h1M487 77.5h1M531 78.5h1M484 79.5h1M529 79.5h1M485 80.5h1M486 80.5h1M523 80.5h1M536 80.5h1M527 81.5h1M522 83.5h1M525 84.5h1M490 104.5h1M492 104.5h1M477 105.5h1M484 105.5h1M494 105.5h1M499 105.5h1M469 106.5h1M486 106.5h1M479 107.5h1M483 107.5h1M497 107.5h1M471 108.5h1M491 108.5h1M476 109.5h1M483 109.5h1M475 110.5h1M494 110.5h1M493 111.5h1M496 111.5h1M491 112.5h1M493 112.5h1M497 112.5h1M501 112.5h1M468 113.5h1M502 113.5h1M474 114.5h1M483 114.5h1M488 114.5h1M490 114.5h1M502 114.5h1M503 116.5h1M491 117.5h1M474 118.5h1M476 118.5h1M489 118.5h1M490 118.5h1M470 119.5h1M475 119.5h1M482 119.5h1M484 119.5h1M490 119.5h1M491 119.5h1M497 119.5h1M495 120.5h1M470 122.5h1M489 122.5h1M495 122.5h1M497 122.5h1M469 123.5h1M486 123.5h1M496 123.5h1M503 123.5h1M504 123.5h1M469 124.5h1M473 124.5h1M475 124.5h1M488 124.5h1M493 124.5h1M501 124.5h1M485 125.5h1M486 125.5h1M491 125.5h1M496 125.5h1M470 126.5h1M478 128.5h1M475 129.5h1M482 129.5h1M489 129.5h1M482 130.5h1M493 130.5h1M494 131.5h1M499 131.5h1M480 132.5h1M483 132.5h1M491 132.5h1M493 132.5h1M503 132.5h1M472 133.5h1M482 134.5h1M500 134.5h1M477 135.5h1M486 135.5h1M486 136.5h1M496 136.5h1M502 136.5h1M475 137.5h1M488 137.5h1M495 137.5h1M503 137.5h1M504 137.5h1M489 138.5h1M496 138.5h1M498 138.5h1" stroke="#a8a8a8" stroke-width="1" shape-rendering="crispEdges"/>
<path d="M466.3 40.4H578.1" fill="none" stroke="#000" stroke-width="1.5"/><path d="M578.1 39.699999999999996V140.79999999999998" fill="none" stroke="#000" stroke-width="1.7"/><path d="M466.3 39.699999999999996V141.8" fill="none" stroke="#000" stroke-width="1.8"/><path d="M463.7 41.9h1.9M463.7 44.8h1.9M463.7 47.7h1.9M463.7 50.6h1.9M463.7 53.5h1.9M463.7 56.4h1.9M463.7 59.3h1.9M463.7 62.2h1.9M463.7 65.1h1.9M463.7 68.0h1.9M463.7 70.9h1.9M463.7 73.8h1.9M463.7 76.7h1.9M463.7 79.6h1.9M463.7 82.5h1.9M463.7 85.4h1.9M463.7 88.3h1.9M463.7 91.2h1.9M463.7 94.1h1.9M463.7 97.0h1.9M463.7 99.9h1.9M463.7 102.8h1.9M463.7 105.7h1.9M463.7 108.6h1.9M463.7 111.5h1.9M463.7 114.4h1.9M463.7 117.3h1.9M463.7 120.2h1.9M463.7 123.1h1.9M463.7 126.0h1.9M463.7 128.9h1.9M463.7 131.8h1.9M463.7 134.7h1.9M463.7 137.6h1.9" stroke="#000" stroke-width="1.8"/><path d="M466.3 140.2H578.1" fill="none" stroke="#000" stroke-width="1.2"/><path d="M466.3 141.8H577.1" fill="none" stroke="#000" stroke-width="2.2" stroke-dasharray="1.8 1.2 1.4 1.8 2.4 1 1 1.6"/><path d="M506 40.4V140.2" fill="none" stroke="#000" stroke-width="1.4"/><path d="M466.3 97.3H578.1" fill="none" stroke="#000" stroke-width="1.4"/>
<text x="471.1" y="54.4" font-size="12" font-weight="bold" font-family='"Liberation Sans", sans-serif' stroke="#000" stroke-width="0.45">21.2</text>
<text x="551.9" y="54.4" font-size="12" font-weight="bold" font-family='"Liberation Sans", sans-serif' stroke="#000" stroke-width="0.45">78.8</text>
<path d="M150 169h2M113 171h1M143 172h1M151 171h2M148 173h2M151 173h2M157 172h2M115 173h2M151 174h2M157 174h1M85 174h1M96 175h2M96 174h2M97 175h2M99 174h2M100 175h1M102 175h1M106 174h2M105 174h2M113 175h2M114 174h2M146 174h2M147 175h1M152 175h1M154 174h1M159 174h2M159 174h2M103 176h2M151 176h2M153 175h2M96 176h2M99 176h1M99 177h2M102 176h2M107 177h1M115 176h1M145 176h2M152 176h1M155 177h1M161 176h1M86 178h2M88 178h2M88 178h1M93 178h2M95 177h2M101 178h1M101 177h2M102 178h2M154 177h2M154 178h1M85 179h2M86 178h2M89 178h2M91 179h2M95 179h1M103 178h1M102 179h1M104 179h1M106 179h1M108 179h2M145 178h2M156 179h2M106 179h2M108 180h1M108 180h2M114 180h1M157 180h2M86 180h2M89 181h2M92 181h2M110 180h1M109 181h2M139 180h1M142 180h1M143 180h1M157 180h2M85 181h1M85 181h2M88 182h1M110 181h1M114 182h1M139 181h2M140 182h1M143 182h2M157 182h1M89 182h2M90 183h2M111 183h2M118 183h2M118 183h2M138 182h1M143 183h1M143 182h1M161 183h2M85 183h2M121 184h1M139 183h2M141 184h1M157 184h2M157 184h2M160 183h2M113 185h1M114 185h2M141 185h2M142 184h2M143 184h2M142 185h2M158 185h2M86 186h2M90 186h2M90 186h1M90 186h1M91 185h2M110 185h1M114 185h2M118 186h2M158 186h2M91 186h1M110 187h1M111 187h2M114 187h2M116 186h1M118 186h2M160 186h1M85 187h2M92 187h2M109 187h1M110 187h2M110 188h1M113 188h1M115 188h2M120 188h2M141 187h2M144 188h2M88 189h2M89 188h2M89 189h1M89 189h1M93 189h1M94 188h2M107 188h2M108 189h2M109 189h1M113 188h2M116 189h2M136 189h1M143 188h1M86 190h2M87 190h2M92 190h2M94 189h1M104 189h2M114 189h1M140 190h1M143 190h1M143 189h2M145 189h2M85 190h1M95 190h2M97 191h1M101 191h1M102 190h1M145 191h1M147 191h1M154 190h2M102 192h1M108 191h1M110 192h1M113 192h1M115 192h1M141 191h1M148 192h1M153 191h1M158 192h2M95 192h2M96 192h2M99 193h2M103 193h1M105 193h1M105 193h1M108 192h1M143 193h1M150 193h2M152 193h2M155 193h2M160 192h2M85 194h2M88 193h1M93 193h2M112 194h2M152 194h1M157 193h1M91 195h2M96 194h2M98 194h2M102 195h2M114 195h1M139 194h1M151 194h1M107 196h2M88 197h1M147 196h2M156 196h1M100 199h2M96 201h2M141 201h2M98 202h1M100 202h1M110 201h1M114 202h1M114 201h1M115 205h2M148 204h1M101 206h2M87 209h1M114 210h1M98 210h1M102 211h2M116 211h1M119 211h1M91 211h1M92 211h1M95 212h1M100 212h2M102 211h1M101 211h2M104 211h2M105 211h1M112 211h1M122 212h1M85 212h2M88 213h2M94 213h1M94 213h1M99 213h1M103 213h2M106 213h1M111 212h1M112 213h1M116 212h2M119 213h1M121 212h1M124 212h1M100 214h2M101 214h1M101 214h2M103 213h2M110 214h2M112 214h1M118 213h2M85 215h1M91 214h1M91 214h2M103 215h2M105 214h2M106 214h2M109 215h2M110 215h2M110 215h2M111 215h2M113 215h2M119 215h2M124 215h2M180 214h2M85 216h2M128 217h2M129 216h2M122 218h2M125 218h1M133 220h1M139 219h1M123 220h1M186 221h2M124 222h2M122 223h1M123 224h1M127 223h1M123 225h2M125 226h2M123 227h2M124 227h1M133 226h2M151 226h2M130 227h2M130 227h1M139 228h2M124 229h1M133 229h1M135 230h1M138 231h2M145 230h2M123 232h2M125 232h2M127 233h1M134 232h1M134 232h2M188 233h1M136 234h1M141 234h1M129 234h2M126 236h2M148 235h2M155 236h2M134 237h1M136 237h1M125 238h1M138 238h1M151 238h2M124 240h2M152 239h2M141 240h2M141 241h2M142 240h2M127 241h1M127 242h2M131 242h2M140 241h2M127 243h1M128 242h2M132 243h1M141 243h2M133 244h2M137 243h1M140 244h1M126 245h2M135 245h2M140 244h1M124 246h1M130 246h1M145 246h1M148 245h1M126 247h1M132 247h2M138 246h2M148 246h2M153 247h2M130 247h1M136 248h2M145 248h2M146 247h2M133 249h2M161 248h1M137 250h2M126 251h1M127 251h1M131 252h2M145 252h2M123 252h1M125 252h2M138 252h2M139 252h1M123 253h1M123 253h2M134 253h2M140 253h2M142 253h1M123 253h2M123 253h1M127 253h2M134 253h1" stroke="#000" stroke-width="2" shape-rendering="crispEdges"/>
<path d="M155 168.5h2M113 172.5h2M149 172.5h2M94 174.5h2M101 174.5h2M113 173.5h2M121 173.5h2M152 173.5h2M92 174.5h2M102 174.5h2M105 174.5h2M110 174.5h2M150 175.5h2M161 175.5h2M86 176.5h2M93 176.5h2M94 175.5h2M101 176.5h2M103 175.5h2M105 176.5h2M119 175.5h2M124 175.5h2M156 176.5h2M98 176.5h2M103 176.5h2M116 177.5h2M146 176.5h2M155 176.5h2M91 177.5h2M103 177.5h2M111 178.5h2M90 178.5h2M108 178.5h2M108 179.5h2M112 178.5h2M144 179.5h2M91 180.5h2M114 179.5h2M157 180.5h2M110 180.5h2M160 181.5h2M88 183.5h2M113 184.5h2M117 184.5h2M159 184.5h2M88 184.5h2M111 186.5h2M111 185.5h2M140 186.5h2M163 185.5h2M85 186.5h2M85 186.5h2M115 187.5h2M158 186.5h2M86 188.5h2M86 188.5h2M87 187.5h2M90 188.5h2M92 187.5h2M114 188.5h2M122 187.5h2M141 188.5h2M90 188.5h2M93 188.5h2M108 188.5h2M143 188.5h2M142 189.5h2M95 189.5h2M98 189.5h2M100 190.5h2M117 190.5h2M123 189.5h2M146 190.5h2M88 190.5h2M99 190.5h2M99 190.5h2M103 191.5h2M109 190.5h2M137 190.5h2M141 190.5h2M141 190.5h2M148 190.5h2M151 190.5h2M109 191.5h2M114 191.5h2M136 191.5h2M92 192.5h2M103 194.5h2M98 194.5h2M104 195.5h2M105 195.5h2M120 197.5h2M104 198.5h2M90 199.5h2M94 201.5h2M118 201.5h2M126 202.5h2M135 201.5h2M126 203.5h2M98 204.5h2M108 206.5h2M85 208.5h2M108 210.5h2M109 210.5h2M119 210.5h2M105 211.5h2M85 212.5h2M87 211.5h2M105 211.5h2M110 211.5h2M119 211.5h2M91 213.5h2M96 213.5h2M120 212.5h2M95 213.5h2M102 213.5h2M103 213.5h2M104 213.5h2M108 214.5h2M111 213.5h2M113 213.5h2M87 214.5h2M120 215.5h2M123 215.5h2M125 216.5h2M121 216.5h2M124 218.5h2M141 219.5h2M122 219.5h2M125 221.5h2M124 222.5h2M141 221.5h2M127 225.5h2M150 225.5h2M122 229.5h2M131 228.5h2M135 229.5h2M141 230.5h2M128 231.5h2M130 230.5h2M144 231.5h2M124 232.5h2M124 232.5h2M126 232.5h2M134 232.5h2M143 232.5h2M186 231.5h2M141 233.5h2M173 233.5h2M128 233.5h2M132 234.5h2M134 234.5h2M136 234.5h2M124 234.5h2M124 235.5h2M127 236.5h2M134 236.5h2M147 236.5h2M129 236.5h2M135 237.5h2M140 236.5h2M134 238.5h2M127 239.5h2M129 239.5h2M134 239.5h2M139 239.5h2M148 239.5h2M131 239.5h2M141 240.5h2M135 241.5h2M126 241.5h2M128 242.5h2M144 241.5h2M135 244.5h2M142 244.5h2M145 244.5h2M125 245.5h2M125 246.5h2M130 246.5h2M130 245.5h2M131 246.5h2M139 245.5h2M138 246.5h2M143 247.5h2M128 248.5h2M146 248.5h2M128 250.5h2M137 250.5h2M138 249.5h2M140 250.5h2M130 252.5h2M140 252.5h2M125 252.5h2M150 177.5h1M152 177.5h2M99 178.5h4M146 178.5h10M95 179.5h1M97 179.5h10M145 179.5h12M93 180.5h2M96 180.5h13M145 180.5h1M147 180.5h1M149 180.5h8M92 181.5h2M95 181.5h5M101 181.5h2M105 181.5h2M108 181.5h1M144 181.5h12M92 182.5h3M96 182.5h2M99 182.5h2M102 182.5h8M144 182.5h14M91 183.5h14M106 183.5h2M109 183.5h1M144 183.5h13M91 184.5h9M101 184.5h7M109 184.5h2M144 184.5h12M92 185.5h7M100 185.5h10M144 185.5h13M93 186.5h17M145 186.5h13M93 187.5h2M96 187.5h1M99 187.5h9M145 187.5h12M95 188.5h11M146 188.5h11M99 189.5h3M146 189.5h9M148 190.5h1M152 190.5h2M88 215.5h3M92 215.5h2M95 215.5h7M103 215.5h5M109 215.5h9M85 216.5h10M100 216.5h2M103 216.5h4M109 216.5h1M112 216.5h2M115 216.5h6M85 217.5h5M91 217.5h12M104 217.5h4M109 217.5h3M113 217.5h8M85 218.5h6M92 218.5h6M99 218.5h8M108 218.5h8M117 218.5h5M85 219.5h5M91 219.5h3M95 219.5h14M110 219.5h2M113 219.5h3M117 219.5h4M85 220.5h36M85 221.5h2M88 221.5h3M92 221.5h9M102 221.5h12M115 221.5h6M85 222.5h5M91 222.5h5M97 222.5h5M103 222.5h2M106 222.5h2M109 222.5h14M87 223.5h17M105 223.5h1M107 223.5h2M110 223.5h4M115 223.5h7M86 224.5h12M99 224.5h1M101 224.5h8M111 224.5h5M117 224.5h6M85 225.5h15M101 225.5h1M103 225.5h8M112 225.5h10M85 226.5h16M102 226.5h2M105 226.5h3M109 226.5h2M112 226.5h8M122 226.5h1M85 227.5h3M89 227.5h6M96 227.5h1M98 227.5h7M106 227.5h3M110 227.5h5M116 227.5h7M85 228.5h14M100 228.5h3M104 228.5h5M110 228.5h8M119 228.5h2M122 228.5h1M85 229.5h4M90 229.5h7M98 229.5h3M102 229.5h10M113 229.5h1M115 229.5h8M85 230.5h14M101 230.5h3M106 230.5h10M117 230.5h1M119 230.5h1M121 230.5h3M85 231.5h2M89 231.5h13M103 231.5h10M115 231.5h8M85 232.5h3M89 232.5h13M104 232.5h13M118 232.5h1M120 232.5h2M123 232.5h1M85 233.5h36M122 233.5h2M85 234.5h8M94 234.5h2M98 234.5h14M113 234.5h10M85 235.5h11M97 235.5h10M108 235.5h1M110 235.5h10M121 235.5h3M85 236.5h18M104 236.5h9M114 236.5h10M85 237.5h5M91 237.5h14M106 237.5h18M85 238.5h5M91 238.5h7M99 238.5h25M85 239.5h8M94 239.5h22M117 239.5h3M121 239.5h3M85 240.5h1M87 240.5h1M90 240.5h11M102 240.5h10M113 240.5h1M115 240.5h9M86 241.5h5M92 241.5h3M96 241.5h3M100 241.5h2M103 241.5h20M85 242.5h1M87 242.5h4M93 242.5h4M98 242.5h3M102 242.5h3M106 242.5h1M108 242.5h1M110 242.5h3M114 242.5h6M121 242.5h3M85 243.5h2M88 243.5h1M90 243.5h5M96 243.5h8M105 243.5h5M111 243.5h12M85 244.5h1M87 244.5h1M89 244.5h10M100 244.5h24M85 245.5h17M103 245.5h2M106 245.5h14M121 245.5h3M85 246.5h2M89 246.5h4M94 246.5h1M96 246.5h19M116 246.5h6M123 246.5h1M85 247.5h1M88 247.5h12M101 247.5h8M110 247.5h8M119 247.5h2M122 247.5h1M85 248.5h2M88 248.5h6M95 248.5h4M101 248.5h2M104 248.5h7M112 248.5h2M115 248.5h1M117 248.5h6M85 249.5h1M87 249.5h13M102 249.5h2M105 249.5h1M107 249.5h16M85 250.5h6M92 250.5h13M106 250.5h17M85 251.5h9M97 251.5h12M110 251.5h13M85 252.5h9M95 252.5h2M99 252.5h4M104 252.5h1M106 252.5h8M115 252.5h7M85 253.5h6M92 253.5h8M102 253.5h10M113 253.5h5M120 253.5h3" stroke="#000" stroke-width="1" shape-rendering="crispEdges"/>
<path d="M148 177.5h1M151 177.5h1M95 180.5h1M146 180.5h1M148 180.5h1M104 181.5h1M109 181.5h1M157 181.5h1M98 182.5h1M101 182.5h1M105 183.5h1M108 183.5h1M157 183.5h1M100 184.5h1M108 184.5h1M157 184.5h1M99 185.5h1M157 185.5h1M95 187.5h1M98 187.5h1M98 189.5h1M102 189.5h1M103 189.5h1M118 215.5h1M95 216.5h1M97 216.5h1M99 216.5h1M102 216.5h1M107 216.5h1M108 216.5h1M110 216.5h1M111 216.5h1M114 216.5h1M90 217.5h1M108 217.5h1M112 217.5h1M91 218.5h1M107 218.5h1M90 219.5h1M109 219.5h1M112 219.5h1M116 219.5h1M121 219.5h1M121 220.5h1M105 222.5h1M108 222.5h1M104 223.5h1M122 223.5h1M98 224.5h1M100 224.5h1M109 224.5h1M100 225.5h1M101 226.5h1M104 226.5h1M120 226.5h1M88 227.5h1M97 227.5h1M105 227.5h1M99 228.5h1M103 228.5h1M112 229.5h1M99 230.5h1M105 230.5h1M120 230.5h1M87 231.5h1M88 232.5h1M103 232.5h1M119 232.5h1M121 233.5h1M93 234.5h1M96 234.5h1M97 234.5h1M123 234.5h1M109 235.5h1M103 236.5h1M90 237.5h1M90 238.5h1M120 239.5h1M86 240.5h1M89 240.5h1M112 240.5h1M114 240.5h1M85 241.5h1M91 241.5h1M95 241.5h1M99 241.5h1M102 241.5h1M86 242.5h1M91 242.5h1M97 242.5h1M101 242.5h1M105 242.5h1M107 242.5h1M109 242.5h1M113 242.5h1M120 242.5h1M89 243.5h1M104 243.5h1M123 243.5h1M102 245.5h1M93 246.5h1M115 246.5h1M100 247.5h1M109 247.5h1M100 248.5h1M111 248.5h1M114 248.5h1M116 248.5h1M101 249.5h1M104 249.5h1M106 249.5h1M105 250.5h1M94 251.5h1M95 251.5h1M97 252.5h1M98 252.5h1M105 252.5h1M122 252.5h1M91 253.5h1M100 253.5h1M101 253.5h1M118 253.5h1" stroke="#6a6a6a" stroke-width="1" shape-rendering="crispEdges"/>
<path d="M149 177.5h1M96 179.5h1M94 181.5h1M100 181.5h1M103 181.5h1M107 181.5h1M156 181.5h1M95 182.5h1M110 183.5h1M156 184.5h1M92 186.5h1M144 186.5h1M97 187.5h1M108 187.5h1M106 188.5h1M145 188.5h1M155 189.5h1M149 190.5h1M150 190.5h1M151 190.5h1M91 215.5h1M94 215.5h1M102 215.5h1M108 215.5h1M96 216.5h1M98 216.5h1M103 217.5h1M98 218.5h1M116 218.5h1M94 219.5h1M87 221.5h1M91 221.5h1M101 221.5h1M114 221.5h1M121 221.5h1M90 222.5h1M96 222.5h1M102 222.5h1M85 223.5h1M86 223.5h1M106 223.5h1M109 223.5h1M114 223.5h1M85 224.5h1M110 224.5h1M116 224.5h1M102 225.5h1M111 225.5h1M122 225.5h1M108 226.5h1M111 226.5h1M121 226.5h1M95 227.5h1M109 227.5h1M115 227.5h1M109 228.5h1M118 228.5h1M121 228.5h1M89 229.5h1M97 229.5h1M101 229.5h1M114 229.5h1M100 230.5h1M104 230.5h1M116 230.5h1M118 230.5h1M88 231.5h1M102 231.5h1M113 231.5h1M114 231.5h1M123 231.5h1M102 232.5h1M117 232.5h1M122 232.5h1M112 234.5h1M96 235.5h1M107 235.5h1M120 235.5h1M113 236.5h1M105 237.5h1M98 238.5h1M93 239.5h1M116 239.5h1M88 240.5h1M101 240.5h1M123 241.5h1M92 242.5h1M87 243.5h1M95 243.5h1M110 243.5h1M86 244.5h1M88 244.5h1M99 244.5h1M105 245.5h1M120 245.5h1M87 246.5h1M88 246.5h1M95 246.5h1M122 246.5h1M86 247.5h1M87 247.5h1M118 247.5h1M121 247.5h1M123 247.5h1M87 248.5h1M94 248.5h1M99 248.5h1M103 248.5h1M86 249.5h1M100 249.5h1M91 250.5h1M96 251.5h1M109 251.5h1M94 252.5h1M103 252.5h1M114 252.5h1M112 253.5h1M119 253.5h1" stroke="#a8a8a8" stroke-width="1" shape-rendering="crispEdges"/>
<path d="M83.7 157.2H193.6" fill="none" stroke="#444" stroke-width="1.1" stroke-dasharray="4 1 6 1.5"/><path d="M193.6 156.5V255.4" fill="none" stroke="#000" stroke-width="1.7"/><path d="M83.7 156.5V255.7" fill="none" stroke="#000" stroke-width="1.8"/><path d="M81.10000000000001 158.7h1.9M81.10000000000001 161.6h1.9M81.10000000000001 164.5h1.9M81.10000000000001 167.4h1.9M81.10000000000001 170.3h1.9M81.10000000000001 173.2h1.9M81.10000000000001 176.1h1.9M81.10000000000001 179.0h1.9M81.10000000000001 181.9h1.9M81.10000000000001 184.8h1.9M81.10000000000001 187.7h1.9M81.10000000000001 190.6h1.9M81.10000000000001 193.5h1.9M81.10000000000001 196.4h1.9M81.10000000000001 199.3h1.9M81.10000000000001 202.2h1.9M81.10000000000001 205.1h1.9M81.10000000000001 208.0h1.9M81.10000000000001 210.9h1.9M81.10000000000001 213.8h1.9M81.10000000000001 216.7h1.9M81.10000000000001 219.6h1.9M81.10000000000001 222.5h1.9M81.10000000000001 225.4h1.9M81.10000000000001 228.3h1.9M81.10000000000001 231.2h1.9M81.10000000000001 234.1h1.9M81.10000000000001 237.0h1.9M81.10000000000001 239.9h1.9M81.10000000000001 242.8h1.9M81.10000000000001 245.7h1.9M81.10000000000001 248.6h1.9M81.10000000000001 251.5h1.9M81.10000000000001 254.4h1.9" stroke="#000" stroke-width="1.8"/><path d="M83.7 255.7H192.6" fill="none" stroke="#000" stroke-width="2.2" stroke-dasharray="1.8 1.2 1.4 1.8 2.4 1 1 1.6"/><path d="M123.3 158.5V254.8" fill="none" stroke="#000" stroke-width="1.4"/><path d="M83.7 211.1H189.2" fill="none" stroke="#333" stroke-width="1.1"/>
<text x="85.9" y="171.6" font-size="12" font-weight="bold" font-family='"Liberation Sans", sans-serif' stroke="#000" stroke-width="0.45">49.2</text>
<text x="161.9" y="171.6" font-size="12" font-weight="bold" font-family='"Liberation Sans", sans-serif' stroke="#000" stroke-width="0.45">50.8</text>
<path d="M278 167h2M235 171h1M236 175h1M211 176h2M221 176h2M230 176h2M232 175h1M246 177h2M276 177h2M231 177h1M234 178h1M218 179h1M221 178h1M230 179h2M232 178h1M241 179h1M272 178h1M274 178h1M276 179h1M211 180h1M229 179h2M236 180h2M243 180h2M274 179h1M274 180h1M278 180h2M214 180h2M229 181h2M232 181h1M233 181h1M239 181h2M265 181h1M269 180h2M273 180h1M274 180h1M282 180h1M286 181h2M233 181h1M235 181h2M264 181h2M269 182h1M274 182h1M274 181h1M287 182h1M221 182h2M227 183h2M230 182h1M233 182h2M235 183h2M235 182h1M271 182h2M274 182h2M289 182h2M220 184h1M227 183h2M269 183h2M271 183h2M271 184h2M282 184h1M208 184h2M226 185h2M229 184h1M231 185h2M231 184h2M263 184h2M269 184h1M217 185h2M219 185h2M229 185h2M237 185h2M242 185h1M244 185h1M208 187h1M214 187h2M220 187h2M221 186h2M227 186h2M234 187h1M236 187h1M238 187h2M245 186h1M283 187h2M285 186h2M214 187h1M223 187h2M226 188h2M246 187h1M249 187h2M263 188h2M286 188h2M213 189h2M220 188h2M229 189h1M228 189h2M239 189h2M238 189h2M240 188h1M249 188h1M268 188h1M270 188h2M217 190h1M225 190h2M230 190h1M232 190h2M270 190h2M284 190h1M286 190h1M223 190h1M227 191h2M230 190h2M236 190h1M243 190h2M248 190h2M268 190h2M283 190h1M287 190h1M211 192h1M220 192h1M223 191h1M223 192h1M226 191h1M230 192h1M231 191h2M234 191h1M236 192h2M270 192h1M269 191h2M211 193h2M210 192h2M220 192h2M224 192h1M235 193h2M270 192h1M287 193h2M208 194h2M225 193h2M231 194h1M237 193h2M243 194h1M257 194h1M269 193h2M285 193h1M218 194h2M224 195h2M235 194h1M270 194h2M289 194h1M217 195h2M264 196h2M226 196h1M228 196h2M231 196h2M234 197h1M239 196h2M282 197h2M214 198h2M214 197h2M222 197h1M233 197h2M234 197h2M241 198h2M224 199h2M228 198h2M229 198h2M232 198h2M233 199h2M243 199h1M268 199h1M270 199h2M271 198h2M209 199h2M237 199h1M272 199h1M281 200h1M284 199h1M283 199h2M284 199h2M285 199h2M208 200h2M228 200h2M233 200h1M236 201h2M268 200h2M271 201h1M270 200h2M280 200h1M281 200h2M281 201h1M287 201h2M228 202h1M228 202h2M274 201h2M275 201h1M210 203h2M227 203h1M229 203h2M231 203h2M236 202h1M272 203h2M225 203h2M235 204h2M240 204h1M268 203h1M272 204h2M275 204h1M283 203h1M235 205h1M278 205h1M208 205h2M213 206h1M221 206h1M222 205h2M226 206h1M230 206h1M233 206h1M237 206h2M239 206h1M242 205h1M248 205h1M272 205h1M265 207h2M267 206h2M285 207h2M237 208h1M227 209h1M238 208h2M259 208h2M272 209h1M278 209h2M286 208h2M220 210h1M230 210h1M240 210h2M248 209h2M251 210h2M208 211h2M219 210h1M233 211h2M239 210h2M240 210h2M243 210h1M208 212h2M213 212h1M214 211h2M222 211h2M238 211h2M239 211h2M210 212h2M214 212h1M213 212h2M222 213h2M228 212h2M230 212h2M234 213h2M237 212h2M239 213h2M240 213h2M211 213h2M225 214h1M231 214h2M232 214h1M233 214h2M238 214h1M240 214h2M243 213h2M213 214h1M215 214h2M227 214h1M237 215h1M238 214h2M240 215h2M244 214h2M247 214h2M249 215h1M248 214h1M249 215h2M250 216h1M290 215h2M249 217h2M250 217h1M252 218h1M278 218h1M297 218h2M249 218h1M252 219h2M253 219h2M257 218h2M253 219h1M249 221h1M252 221h1M253 221h1M253 220h2M251 224h2M250 225h1M285 225h1M249 226h2M252 225h2M262 226h1M264 226h2M266 226h2M250 228h2M253 228h2M265 229h1M274 229h2M251 231h2M257 230h1M272 230h2M253 232h1M268 232h1M253 233h2M254 234h1M254 234h2M262 233h2M269 234h2M280 233h1M249 235h2M250 234h1M249 235h1M251 235h2M297 236h1M286 236h2M249 239h1M252 238h2M252 238h2M253 239h2M271 238h1M289 239h2M250 240h2M250 240h1M251 241h2M262 240h2M283 241h2M251 242h2M251 242h2M251 242h1M251 243h1M284 242h1M251 244h2M254 243h2M260 244h2M250 245h2M251 244h2M251 246h2M254 246h2M249 246h1M252 246h2M253 247h1M250 247h2M251 248h2M255 250h2M260 250h2M264 251h2M249 252h1M251 252h2M250 253h2M251 253h2M251 253h1M252 253h1" stroke="#000" stroke-width="2" shape-rendering="crispEdges"/>
<path d="M235 170.5h2M241 170.5h2M234 172.5h2M276 172.5h2M210 173.5h2M220 174.5h2M239 174.5h2M275 173.5h2M283 173.5h2M224 174.5h2M235 174.5h2M230 176.5h2M244 176.5h2M213 176.5h2M221 177.5h2M243 177.5h2M289 176.5h2M238 177.5h2M274 178.5h2M279 178.5h2M226 178.5h2M227 179.5h2M238 178.5h2M275 178.5h2M224 179.5h2M238 179.5h2M271 180.5h2M272 180.5h2M225 180.5h2M266 181.5h2M278 180.5h2M280 180.5h2M281 180.5h2M231 181.5h2M274 182.5h2M283 181.5h2M223 182.5h2M224 183.5h2M282 182.5h2M224 183.5h2M243 183.5h2M245 184.5h2M269 184.5h2M282 184.5h2M225 184.5h2M233 184.5h2M238 184.5h2M222 186.5h2M237 185.5h2M284 186.5h2M229 186.5h2M238 187.5h2M268 186.5h2M218 188.5h2M228 187.5h2M236 187.5h2M267 187.5h2M284 187.5h2M290 188.5h2M216 188.5h2M226 188.5h2M229 189.5h2M287 189.5h2M237 189.5h2M265 190.5h2M231 190.5h2M233 192.5h2M284 191.5h2M227 192.5h2M267 192.5h2M219 194.5h2M236 194.5h2M259 193.5h2M266 194.5h2M268 194.5h2M286 193.5h2M223 195.5h2M229 195.5h2M230 194.5h2M288 195.5h2M242 196.5h2M259 196.5h2M224 197.5h2M227 197.5h2M238 196.5h2M269 197.5h2M223 198.5h2M271 197.5h2M283 198.5h2M287 198.5h2M224 198.5h2M239 198.5h2M243 198.5h2M265 198.5h2M283 198.5h2M208 199.5h2M216 199.5h2M217 200.5h2M223 200.5h2M223 200.5h2M227 200.5h2M228 199.5h2M236 200.5h2M265 199.5h2M279 199.5h2M228 200.5h2M235 201.5h2M278 200.5h2M235 201.5h2M265 202.5h2M268 202.5h2M273 201.5h2M278 202.5h2M236 203.5h2M275 202.5h2M275 202.5h2M225 203.5h2M252 204.5h2M261 203.5h2M282 204.5h2M216 204.5h2M271 204.5h2M228 206.5h2M271 205.5h2M273 206.5h2M269 206.5h2M262 207.5h2M216 209.5h2M237 208.5h2M290 208.5h2M220 210.5h2M234 210.5h2M244 209.5h2M247 209.5h2M210 211.5h2M214 211.5h2M221 210.5h2M222 211.5h2M231 211.5h2M248 210.5h2M254 211.5h2M297 211.5h2M211 211.5h2M240 211.5h2M241 212.5h2M240 211.5h2M211 213.5h2M236 212.5h2M239 213.5h2M217 213.5h2M232 213.5h2M237 213.5h2M236 213.5h2M241 213.5h2M249 213.5h2M249 215.5h2M249 215.5h2M250 215.5h2M273 217.5h2M252 218.5h2M251 219.5h2M257 218.5h2M249 221.5h2M249 223.5h2M250 222.5h2M274 223.5h2M251 226.5h2M263 226.5h2M250 228.5h2M251 227.5h2M259 227.5h2M250 228.5h2M251 230.5h2M249 231.5h2M252 231.5h2M255 232.5h2M262 236.5h2M286 236.5h2M268 236.5h2M274 237.5h2M250 241.5h2M260 241.5h2M265 243.5h2M251 245.5h2M249 247.5h2M307 247.5h2M253 249.5h2M250 250.5h2M251 251.5h2M250 251.5h2M276 182.5h1M274 183.5h4M279 183.5h1M274 184.5h7M272 185.5h4M277 185.5h6M273 186.5h7M281 186.5h2M271 187.5h10M282 187.5h2M271 188.5h12M271 189.5h13M271 190.5h6M278 190.5h6M272 191.5h12M271 192.5h13M272 193.5h12M272 194.5h3M276 194.5h7M273 195.5h1M275 195.5h8M272 196.5h3M276 196.5h4M281 196.5h2M272 197.5h10M273 198.5h8M274 199.5h4M279 199.5h1M276 200.5h2M209 215.5h1M211 215.5h9M221 215.5h3M225 215.5h7M233 215.5h4M238 215.5h1M241 215.5h1M243 215.5h5M208 216.5h7M216 216.5h2M219 216.5h12M232 216.5h5M238 216.5h9M248 216.5h1M208 217.5h12M221 217.5h3M225 217.5h10M236 217.5h5M243 217.5h3M247 217.5h2M208 218.5h7M216 218.5h5M222 218.5h4M227 218.5h11M239 218.5h3M243 218.5h7M208 219.5h3M212 219.5h9M222 219.5h15M238 219.5h12M208 220.5h3M212 220.5h3M216 220.5h11M228 220.5h5M234 220.5h8M244 220.5h3M248 220.5h2M208 221.5h2M211 221.5h8M220 221.5h4M225 221.5h6M232 221.5h12M245 221.5h5M208 222.5h5M214 222.5h5M221 222.5h2M224 222.5h8M233 222.5h3M237 222.5h9M247 222.5h2M208 223.5h22M231 223.5h6M238 223.5h12M208 224.5h15M224 224.5h8M233 224.5h1M235 224.5h2M238 224.5h4M243 224.5h2M246 224.5h4M208 225.5h4M213 225.5h2M216 225.5h5M222 225.5h2M225 225.5h7M233 225.5h2M236 225.5h4M241 225.5h8M208 226.5h11M220 226.5h2M223 226.5h3M227 226.5h3M231 226.5h2M234 226.5h3M238 226.5h4M243 226.5h7M208 227.5h6M215 227.5h6M222 227.5h4M228 227.5h5M234 227.5h2M237 227.5h3M241 227.5h2M244 227.5h3M248 227.5h1M209 228.5h6M216 228.5h13M231 228.5h5M237 228.5h1M239 228.5h3M243 228.5h2M246 228.5h3M208 229.5h1M211 229.5h3M217 229.5h2M220 229.5h5M226 229.5h2M230 229.5h1M232 229.5h4M237 229.5h7M245 229.5h5M208 230.5h3M212 230.5h16M229 230.5h6M236 230.5h7M245 230.5h1M247 230.5h3M208 231.5h5M214 231.5h5M220 231.5h8M229 231.5h1M233 231.5h1M235 231.5h4M240 231.5h7M248 231.5h2M209 232.5h15M225 232.5h10M236 232.5h13M208 233.5h4M213 233.5h6M221 233.5h8M230 233.5h1M232 233.5h7M240 233.5h4M245 233.5h5M208 234.5h7M217 234.5h7M225 234.5h6M233 234.5h10M244 234.5h4M249 234.5h1M208 235.5h5M214 235.5h18M233 235.5h12M246 235.5h4M208 236.5h2M211 236.5h5M217 236.5h3M221 236.5h1M223 236.5h4M228 236.5h1M230 236.5h2M233 236.5h5M240 236.5h6M247 236.5h3M208 237.5h2M211 237.5h13M226 237.5h3M230 237.5h19M208 238.5h4M213 238.5h1M215 238.5h12M229 238.5h2M232 238.5h11M244 238.5h3M248 238.5h2M208 239.5h1M210 239.5h10M221 239.5h8M230 239.5h17M249 239.5h1M208 240.5h6M215 240.5h11M227 240.5h1M229 240.5h16M246 240.5h1M249 240.5h1M208 241.5h6M215 241.5h1M217 241.5h10M228 241.5h2M231 241.5h5M237 241.5h2M240 241.5h2M244 241.5h1M246 241.5h3M208 242.5h5M214 242.5h7M222 242.5h1M224 242.5h3M228 242.5h12M242 242.5h3M246 242.5h1M248 242.5h1M209 243.5h2M212 243.5h6M219 243.5h1M221 243.5h15M237 243.5h5M244 243.5h6M208 244.5h9M218 244.5h29M248 244.5h2M209 245.5h6M216 245.5h4M221 245.5h4M226 245.5h5M233 245.5h4M239 245.5h10M208 246.5h7M216 246.5h5M222 246.5h1M224 246.5h2M227 246.5h6M234 246.5h16M209 247.5h1M211 247.5h3M215 247.5h1M218 247.5h3M222 247.5h7M230 247.5h9M240 247.5h10M208 248.5h6M215 248.5h9M225 248.5h4M230 248.5h1M233 248.5h1M236 248.5h14M209 249.5h1M211 249.5h8M220 249.5h11M232 249.5h9M242 249.5h7M208 250.5h5M214 250.5h12M227 250.5h16M244 250.5h4M249 250.5h1M208 251.5h1M210 251.5h2M216 251.5h1M219 251.5h10M230 251.5h14M245 251.5h1M247 251.5h3M208 252.5h12M221 252.5h4M227 252.5h3M232 252.5h1M234 252.5h2M237 252.5h2M240 252.5h10M209 253.5h2M212 253.5h7M220 253.5h1M222 253.5h4M227 253.5h9M237 253.5h3M242 253.5h2M245 253.5h2M248 253.5h2" stroke="#000" stroke-width="1" shape-rendering="crispEdges"/>
<path d="M277 182.5h1M280 183.5h1M273 184.5h1M281 184.5h1M276 185.5h1M272 186.5h1M281 187.5h1M277 190.5h1M271 191.5h1M274 195.5h1M275 196.5h1M280 196.5h1M275 200.5h1M208 215.5h1M210 215.5h1M232 215.5h1M215 216.5h1M237 216.5h1M235 217.5h1M241 217.5h1M242 217.5h1M246 217.5h1M249 217.5h1M215 218.5h1M221 218.5h1M238 218.5h1M242 218.5h1M211 219.5h1M237 219.5h1M219 221.5h1M244 221.5h1M219 222.5h1M220 222.5h1M232 222.5h1M236 222.5h1M249 222.5h1M230 223.5h1M237 223.5h1M223 224.5h1M242 224.5h1M221 225.5h1M235 225.5h1M240 225.5h1M219 226.5h1M222 226.5h1M226 226.5h1M230 226.5h1M233 226.5h1M237 226.5h1M242 226.5h1M214 227.5h1M233 227.5h1M240 227.5h1M247 227.5h1M230 228.5h1M242 228.5h1M249 228.5h1M209 229.5h1M214 229.5h1M225 229.5h1M229 229.5h1M236 229.5h1M235 230.5h1M243 230.5h1M246 230.5h1M213 231.5h1M219 231.5h1M228 231.5h1M230 231.5h1M232 231.5h1M239 231.5h1M208 232.5h1M249 232.5h1M212 233.5h1M220 233.5h1M231 233.5h1M215 234.5h1M216 234.5h1M232 234.5h1M243 234.5h1M213 235.5h1M220 236.5h1M229 236.5h1M232 236.5h1M238 236.5h1M239 236.5h1M225 237.5h1M229 237.5h1M249 237.5h1M212 238.5h1M214 238.5h1M228 238.5h1M247 238.5h1M209 239.5h1M248 239.5h1M228 240.5h1M227 241.5h1M239 241.5h1M221 242.5h1M223 242.5h1M241 242.5h1M247 242.5h1M249 242.5h1M211 243.5h1M220 243.5h1M242 243.5h1M237 245.5h1M238 245.5h1M215 246.5h1M221 246.5h1M223 246.5h1M208 247.5h1M210 247.5h1M216 247.5h1M229 247.5h1M239 247.5h1M214 248.5h1M224 248.5h1M229 248.5h1M231 248.5h1M235 248.5h1M231 249.5h1M213 250.5h1M226 250.5h1M243 250.5h1M209 251.5h1M212 251.5h1M215 251.5h1M217 251.5h1M218 251.5h1M246 251.5h1M220 252.5h1M226 252.5h1M230 252.5h1M231 252.5h1M233 252.5h1M208 253.5h1M211 253.5h1M221 253.5h1M236 253.5h1M240 253.5h1" stroke="#6a6a6a" stroke-width="1" shape-rendering="crispEdges"/>
<path d="M278 182.5h1M278 183.5h1M280 186.5h1M283 188.5h1M271 193.5h1M271 194.5h1M275 194.5h1M283 194.5h1M271 195.5h1M272 195.5h1M278 199.5h1M220 215.5h1M224 215.5h1M237 215.5h1M239 215.5h1M240 215.5h1M242 215.5h1M218 216.5h1M231 216.5h1M247 216.5h1M220 217.5h1M224 217.5h1M226 218.5h1M221 219.5h1M211 220.5h1M215 220.5h1M227 220.5h1M233 220.5h1M242 220.5h1M243 220.5h1M247 220.5h1M210 221.5h1M224 221.5h1M231 221.5h1M213 222.5h1M223 222.5h1M246 222.5h1M232 224.5h1M234 224.5h1M237 224.5h1M245 224.5h1M212 225.5h1M215 225.5h1M224 225.5h1M232 225.5h1M249 225.5h1M221 227.5h1M226 227.5h1M227 227.5h1M236 227.5h1M243 227.5h1M249 227.5h1M208 228.5h1M215 228.5h1M229 228.5h1M236 228.5h1M238 228.5h1M245 228.5h1M210 229.5h1M215 229.5h1M216 229.5h1M219 229.5h1M228 229.5h1M231 229.5h1M244 229.5h1M211 230.5h1M228 230.5h1M244 230.5h1M231 231.5h1M234 231.5h1M247 231.5h1M224 232.5h1M235 232.5h1M219 233.5h1M229 233.5h1M239 233.5h1M244 233.5h1M224 234.5h1M231 234.5h1M248 234.5h1M232 235.5h1M245 235.5h1M210 236.5h1M216 236.5h1M222 236.5h1M227 236.5h1M246 236.5h1M210 237.5h1M224 237.5h1M227 238.5h1M231 238.5h1M243 238.5h1M220 239.5h1M229 239.5h1M247 239.5h1M214 240.5h1M226 240.5h1M245 240.5h1M247 240.5h1M248 240.5h1M214 241.5h1M216 241.5h1M230 241.5h1M236 241.5h1M242 241.5h1M243 241.5h1M245 241.5h1M249 241.5h1M213 242.5h1M227 242.5h1M240 242.5h1M245 242.5h1M208 243.5h1M218 243.5h1M236 243.5h1M243 243.5h1M217 244.5h1M247 244.5h1M208 245.5h1M215 245.5h1M220 245.5h1M225 245.5h1M231 245.5h1M232 245.5h1M249 245.5h1M226 246.5h1M233 246.5h1M214 247.5h1M217 247.5h1M221 247.5h1M232 248.5h1M234 248.5h1M208 249.5h1M210 249.5h1M219 249.5h1M241 249.5h1M249 249.5h1M248 250.5h1M213 251.5h1M214 251.5h1M229 251.5h1M244 251.5h1M225 252.5h1M236 252.5h1M239 252.5h1M219 253.5h1M226 253.5h1M241 253.5h1M244 253.5h1M247 253.5h1" stroke="#a8a8a8" stroke-width="1" shape-rendering="crispEdges"/>
<path d="M206.6 158H312.7" fill="none" stroke="#000" stroke-width="1.5"/><path d="M312.7 157.3V255.5" fill="none" stroke="#000" stroke-width="1.7"/><path d="M206.6 157.3V256.6" fill="none" stroke="#000" stroke-width="1.8"/><path d="M204.0 159.5h1.9M204.0 162.4h1.9M204.0 165.3h1.9M204.0 168.2h1.9M204.0 171.1h1.9M204.0 174.0h1.9M204.0 176.9h1.9M204.0 179.8h1.9M204.0 182.7h1.9M204.0 185.6h1.9M204.0 188.5h1.9M204.0 191.4h1.9M204.0 194.3h1.9M204.0 197.2h1.9M204.0 200.1h1.9M204.0 203.0h1.9M204.0 205.9h1.9M204.0 208.8h1.9M204.0 211.7h1.9M204.0 214.6h1.9M204.0 217.5h1.9M204.0 220.4h1.9M204.0 223.3h1.9M204.0 226.2h1.9M204.0 229.1h1.9M204.0 232.0h1.9M204.0 234.9h1.9M204.0 237.8h1.9M204.0 240.7h1.9M204.0 243.6h1.9M204.0 246.5h1.9M204.0 249.4h1.9M204.0 252.3h1.9" stroke="#000" stroke-width="1.8"/><path d="M206.6 254.9H312.7" fill="none" stroke="#000" stroke-width="1.2"/><path d="M206.6 256.6H311.7" fill="none" stroke="#000" stroke-width="2.2" stroke-dasharray="1.8 1.2 1.4 1.8 2.4 1 1 1.6"/><path d="M251.6 158V254.9" fill="none" stroke="#000" stroke-width="1.4"/><path d="M206.6 210.6H312.7" fill="none" stroke="#000" stroke-width="1.4"/>
<text x="208.5" y="171.6" font-size="12" font-weight="bold" font-family='"Liberation Sans", sans-serif' stroke="#000" stroke-width="0.45">48.2</text>
<text x="282.5" y="171.6" font-size="12" font-weight="bold" font-family='"Liberation Sans", sans-serif' stroke="#000" stroke-width="0.45">51.8</text>
<path d="M374 168h1M397 169h2M360 171h1M392 173h1M394 172h1M365 173h2M345 175h1M348 176h1M348 175h2M355 175h2M358 176h1M387 175h1M334 176h2M390 176h1M393 176h2M396 176h1M403 177h2M398 177h2M407 178h1M343 178h2M353 179h1M388 178h1M392 178h2M400 179h1M344 180h2M347 179h1M389 179h2M390 180h2M392 180h1M399 180h2M403 179h1M405 180h2M346 181h2M348 181h1M386 181h2M389 180h1M402 180h2M415 181h2M343 181h2M345 181h1M347 181h2M347 182h2M388 181h2M389 182h2M389 182h2M388 181h2M405 182h2M350 182h1M349 183h2M350 182h2M352 182h1M353 183h1M387 183h2M405 183h2M339 184h2M338 183h1M340 184h2M342 184h2M347 184h1M349 183h2M353 183h2M354 183h2M387 184h1M403 183h1M405 184h1M410 183h1M410 183h1M336 184h1M341 184h1M345 185h2M348 185h1M361 185h2M362 184h2M379 184h2M404 184h2M405 185h1M406 185h2M336 185h2M340 186h2M342 186h1M346 186h2M351 185h1M352 185h2M354 185h2M357 185h1M362 185h1M364 185h1M406 186h2M408 186h1M339 186h1M354 187h2M357 186h1M358 187h2M359 187h2M363 186h2M363 187h1M365 186h2M386 187h1M387 187h2M406 187h2M409 186h2M411 186h2M415 186h2M333 187h2M340 188h2M343 188h2M346 188h2M350 187h2M351 187h2M353 188h1M353 187h1M359 188h2M361 187h2M388 187h1M410 187h2M338 188h2M343 189h1M343 188h1M346 189h2M350 189h1M353 188h1M359 189h1M361 189h1M385 189h2M409 188h1M337 190h1M339 190h2M346 190h1M346 190h2M350 189h2M351 189h1M354 190h1M354 189h2M405 190h1M345 190h1M346 190h2M346 191h1M349 190h1M352 190h2M352 190h2M353 190h2M360 190h2M365 191h2M367 190h1M370 190h2M380 190h1M387 190h2M403 191h2M404 191h2M408 190h1M336 192h2M338 192h2M342 192h1M345 192h1M346 192h2M349 191h2M353 192h1M357 191h2M386 192h2M390 192h2M407 192h1M413 192h2M338 193h2M337 193h1M343 192h2M343 193h2M346 192h1M347 193h2M348 193h2M350 193h1M355 193h2M359 192h2M387 193h1M390 193h1M392 193h1M399 192h2M401 192h1M400 192h2M407 193h2M333 193h2M334 194h1M341 193h2M341 193h1M347 194h1M351 193h2M351 193h2M351 193h2M352 193h2M356 193h2M361 193h2M363 194h2M391 193h1M391 194h1M399 194h2M404 193h2M339 195h2M341 194h1M342 195h2M346 195h1M347 194h2M350 195h1M352 194h2M358 195h1M360 194h1M362 195h2M384 194h2M392 195h2M392 194h2M398 195h2M341 195h2M342 195h1M347 196h1M357 196h2M361 195h2M386 196h2M391 196h2M393 195h2M397 195h1M340 197h1M341 196h2M348 197h2M350 196h2M355 197h2M356 197h2M360 196h1M369 197h1M375 196h2M394 197h1M394 197h1M400 196h1M333 198h2M338 198h2M346 197h1M350 198h2M356 197h2M364 197h2M391 198h2M399 198h2M341 199h2M343 198h2M346 198h2M352 198h1M353 199h2M394 198h2M340 200h2M345 199h2M347 199h1M356 200h1M363 199h2M398 199h1M399 199h2M339 200h2M339 200h2M353 200h2M384 200h1M404 200h1M352 201h1M339 203h1M340 203h1M341 203h1M343 202h2M353 202h1M357 203h2M358 202h2M373 202h2M400 202h2M407 203h1M343 204h1M345 204h2M352 205h2M356 204h2M346 206h1M346 205h2M349 207h2M368 207h1M393 206h1M355 208h1M363 208h1M365 207h1M373 208h2M337 208h1M340 208h2M348 208h2M371 209h2M338 210h2M341 211h2M341 212h2M362 211h2M339 212h1M343 212h1M337 213h2M359 213h1M362 213h1M383 214h2M337 215h1M341 214h2M341 214h1M342 215h1M359 214h2M360 214h2M369 214h1M335 215h2M336 215h1M339 216h1M341 215h1M348 215h1M355 215h1M361 215h1M340 217h1M345 217h1M337 217h2M336 217h1M342 217h1M347 218h2M353 218h2M338 218h2M341 219h1M350 219h1M359 219h2M364 219h1M381 218h2M333 220h1M335 219h1M335 219h1M347 220h2M354 220h2M356 220h2M357 220h1M360 219h1M360 219h2M346 220h2M350 221h1M352 221h2M360 221h2M364 220h1M365 220h2M384 220h1M336 221h1M337 222h1M337 222h1M339 221h2M340 222h2M345 222h2M346 221h2M350 222h1M351 222h2M359 222h2M365 222h1M333 223h2M340 222h2M341 223h1M351 223h2M352 222h1M351 222h2M353 222h2M356 222h1M359 222h1M364 223h2M363 222h1M335 224h2M335 223h2M340 224h2M350 223h2M356 224h1M357 223h1M358 223h2M372 223h1M334 224h1M343 224h2M348 224h2M351 224h2M354 225h2M355 225h2M356 225h2M363 225h2M333 226h2M339 225h1M342 225h2M356 226h1M359 225h1M361 225h2M362 226h1M364 225h2M364 226h2M335 227h2M336 226h1M363 227h1M372 227h1M333 228h2M362 227h2M364 227h2M366 228h1M333 229h2M333 228h2M334 228h1M366 228h2M367 229h1M367 229h1M379 228h1M384 228h2M333 230h2M366 230h2M368 229h2M372 229h1M368 230h1M380 231h2M370 233h2M371 234h2M371 233h2M374 235h2M370 236h2M373 236h1M375 236h2M370 239h2M373 239h2M374 240h1M374 241h1M372 241h1M380 242h2M372 243h1M374 243h1M374 245h2M375 247h1M375 246h1M373 247h2M374 247h1M377 249h1M374 250h2M374 251h1M372 254h1M372 253h2M379 254h1M378 254h1M372 254h2" stroke="#000" stroke-width="2" shape-rendering="crispEdges"/>
<path d="M381 172.5h2M339 174.5h2M350 174.5h2M351 173.5h2M376 174.5h2M359 175.5h2M392 175.5h2M400 174.5h2M361 175.5h2M396 175.5h2M403 175.5h2M333 177.5h2M392 177.5h2M400 176.5h2M342 177.5h2M342 177.5h2M352 178.5h2M388 177.5h2M390 178.5h2M398 177.5h2M351 179.5h2M385 178.5h2M342 180.5h2M345 179.5h2M345 179.5h2M345 180.5h2M347 180.5h2M384 179.5h2M390 180.5h2M392 179.5h2M400 180.5h2M338 181.5h2M350 181.5h2M368 180.5h2M386 181.5h2M363 182.5h2M365 182.5h2M385 181.5h2M386 182.5h2M408 181.5h2M339 182.5h2M341 183.5h2M344 183.5h2M356 182.5h2M405 183.5h2M341 183.5h2M353 183.5h2M354 183.5h2M348 184.5h2M353 184.5h2M411 185.5h2M412 184.5h2M358 186.5h2M384 185.5h2M343 186.5h2M346 187.5h2M349 187.5h2M361 186.5h2M384 186.5h2M385 187.5h2M340 188.5h2M343 188.5h2M351 187.5h2M351 188.5h2M360 188.5h2M339 188.5h2M340 189.5h2M340 189.5h2M344 188.5h2M350 189.5h2M357 189.5h2M387 189.5h2M343 190.5h2M363 190.5h2M412 190.5h2M344 191.5h2M347 191.5h2M351 190.5h2M380 191.5h2M387 191.5h2M389 190.5h2M407 191.5h2M355 192.5h2M355 191.5h2M389 191.5h2M391 191.5h2M401 192.5h2M338 192.5h2M348 193.5h2M383 192.5h2M391 192.5h2M402 192.5h2M415 192.5h2M342 194.5h2M347 193.5h2M356 193.5h2M358 194.5h2M367 193.5h2M370 193.5h2M410 193.5h2M333 194.5h2M366 194.5h2M403 194.5h2M352 195.5h2M365 196.5h2M367 195.5h2M395 196.5h2M359 197.5h2M365 197.5h2M398 196.5h2M406 196.5h2M342 198.5h2M351 198.5h2M354 197.5h2M383 197.5h2M396 197.5h2M399 197.5h2M338 198.5h2M351 199.5h2M346 199.5h2M353 200.5h2M355 199.5h2M394 200.5h2M355 200.5h2M363 200.5h2M399 201.5h2M362 202.5h2M402 202.5h2M343 202.5h2M357 202.5h2M340 204.5h2M345 203.5h2M333 205.5h2M342 205.5h2M354 204.5h2M341 206.5h2M343 206.5h2M348 208.5h2M395 207.5h2M352 208.5h2M371 209.5h2M352 211.5h2M333 212.5h2M348 211.5h2M353 213.5h2M342 213.5h2M362 214.5h2M343 215.5h2M353 214.5h2M365 215.5h2M369 214.5h2M369 215.5h2M348 215.5h2M350 215.5h2M346 217.5h2M347 217.5h2M354 216.5h2M360 216.5h2M362 216.5h2M370 216.5h2M372 217.5h2M341 217.5h2M364 218.5h2M347 218.5h2M347 218.5h2M356 218.5h2M361 218.5h2M362 219.5h2M334 220.5h2M338 219.5h2M348 221.5h2M353 221.5h2M357 221.5h2M362 221.5h2M371 222.5h2M346 223.5h2M348 223.5h2M352 223.5h2M356 223.5h2M357 222.5h2M361 223.5h2M361 223.5h2M362 223.5h2M373 222.5h2M379 223.5h2M338 224.5h2M345 223.5h2M349 223.5h2M363 224.5h2M373 224.5h2M339 225.5h2M340 225.5h2M356 224.5h2M363 225.5h2M365 224.5h2M368 224.5h2M361 225.5h2M363 226.5h2M363 226.5h2M333 226.5h2M365 226.5h2M333 228.5h2M364 228.5h2M372 227.5h2M333 230.5h2M367 231.5h2M369 232.5h2M370 236.5h2M371 238.5h2M370 238.5h2M373 238.5h2M375 239.5h2M370 241.5h2M374 243.5h2M373 244.5h2M371 246.5h2M375 248.5h2M373 253.5h2M374 252.5h2M377 253.5h2M373 253.5h2M396 179.5h3M393 180.5h6M391 181.5h3M395 181.5h3M399 181.5h2M402 181.5h1M390 182.5h2M393 182.5h3M397 182.5h2M400 182.5h4M390 183.5h2M393 183.5h6M400 183.5h4M389 184.5h16M389 185.5h2M392 185.5h3M396 185.5h4M401 185.5h4M389 186.5h4M394 186.5h1M396 186.5h9M390 187.5h1M392 187.5h13M390 188.5h1M392 188.5h12M390 189.5h7M398 189.5h6M391 190.5h2M394 190.5h9M392 191.5h10M394 192.5h4M343 225.5h2M346 225.5h2M349 225.5h3M353 225.5h4M339 226.5h5M345 226.5h4M350 226.5h3M354 226.5h2M357 226.5h4M337 227.5h20M359 227.5h2M362 227.5h1M336 228.5h4M341 228.5h8M350 228.5h4M355 228.5h8M334 229.5h1M336 229.5h4M341 229.5h5M347 229.5h12M360 229.5h2M363 229.5h2M333 230.5h1M335 230.5h8M344 230.5h1M347 230.5h12M362 230.5h5M334 231.5h2M337 231.5h1M339 231.5h13M353 231.5h6M360 231.5h5M366 231.5h1M333 232.5h6M340 232.5h2M343 232.5h3M348 232.5h5M354 232.5h5M360 232.5h8M333 233.5h2M336 233.5h1M338 233.5h7M347 233.5h4M352 233.5h6M359 233.5h1M361 233.5h4M367 233.5h1M334 234.5h4M339 234.5h2M342 234.5h2M345 234.5h1M347 234.5h1M349 234.5h20M333 235.5h5M339 235.5h10M351 235.5h12M364 235.5h6M333 236.5h17M351 236.5h2M354 236.5h15M333 237.5h15M351 237.5h8M360 237.5h10M333 238.5h1M335 238.5h9M347 238.5h5M353 238.5h8M362 238.5h2M365 238.5h6M333 239.5h11M345 239.5h2M348 239.5h1M350 239.5h2M353 239.5h8M363 239.5h8M333 240.5h26M360 240.5h11M333 241.5h7M343 241.5h1M345 241.5h3M350 241.5h12M363 241.5h6M370 241.5h1M333 242.5h16M350 242.5h5M358 242.5h1M360 242.5h4M366 242.5h5M333 243.5h12M346 243.5h3M350 243.5h1M352 243.5h2M355 243.5h13M369 243.5h3M333 244.5h20M354 244.5h2M357 244.5h9M367 244.5h2M333 245.5h6M340 245.5h1M342 245.5h23M366 245.5h6M333 246.5h3M337 246.5h3M341 246.5h16M358 246.5h3M362 246.5h1M364 246.5h5M370 246.5h2M333 247.5h13M347 247.5h3M351 247.5h9M361 247.5h9M371 247.5h1M334 248.5h14M350 248.5h10M361 248.5h11M335 249.5h17M353 249.5h13M367 249.5h5M333 250.5h3M337 250.5h5M343 250.5h2M347 250.5h17M365 250.5h2M368 250.5h4M333 251.5h3M338 251.5h9M348 251.5h9M358 251.5h14M333 252.5h1M335 252.5h12M348 252.5h1M350 252.5h10M361 252.5h7M369 252.5h3M334 253.5h17M352 253.5h1M354 253.5h1M357 253.5h15M333 254.5h12M348 254.5h2M351 254.5h5M357 254.5h4M364 254.5h8" stroke="#000" stroke-width="1" shape-rendering="crispEdges"/>
<path d="M395 179.5h1M392 182.5h1M399 183.5h1M400 185.5h1M393 186.5h1M395 186.5h1M391 187.5h1M397 189.5h1M393 190.5h1M398 192.5h1M349 226.5h1M353 226.5h1M356 226.5h1M354 228.5h1M335 229.5h1M365 229.5h1M343 230.5h1M345 230.5h1M346 230.5h1M359 230.5h1M361 230.5h1M333 231.5h1M359 231.5h1M365 231.5h1M339 232.5h1M346 232.5h1M347 232.5h1M359 232.5h1M335 233.5h1M345 233.5h1M346 233.5h1M351 233.5h1M360 233.5h1M333 234.5h1M341 234.5h1M346 234.5h1M350 235.5h1M363 235.5h1M350 236.5h1M353 236.5h1M349 237.5h1M345 238.5h1M352 238.5h1M361 238.5h1M347 239.5h1M349 239.5h1M361 239.5h1M362 239.5h1M340 241.5h1M341 241.5h1M362 241.5h1M369 241.5h1M355 242.5h1M357 242.5h1M359 242.5h1M345 243.5h1M349 243.5h1M354 243.5h1M368 243.5h1M356 244.5h1M366 244.5h1M369 244.5h1M370 244.5h1M341 245.5h1M336 246.5h1M361 246.5h1M369 246.5h1M360 247.5h1M370 247.5h1M348 248.5h1M349 248.5h1M360 248.5h1M334 249.5h1M352 249.5h1M366 249.5h1M336 250.5h1M346 250.5h1M367 250.5h1M336 251.5h1M337 251.5h1M357 251.5h1M334 252.5h1M368 252.5h1M333 253.5h1M351 253.5h1M353 253.5h1M355 253.5h1M356 253.5h1M345 254.5h1M350 254.5h1M356 254.5h1M361 254.5h1" stroke="#6a6a6a" stroke-width="1" shape-rendering="crispEdges"/>
<path d="M399 180.5h1M400 180.5h1M394 181.5h1M398 181.5h1M401 181.5h1M396 182.5h1M399 182.5h1M392 183.5h1M391 185.5h1M395 185.5h1M389 187.5h1M391 188.5h1M399 192.5h1M345 225.5h1M348 225.5h1M352 225.5h1M344 226.5h1M357 227.5h1M358 227.5h1M361 227.5h1M340 228.5h1M349 228.5h1M363 228.5h1M340 229.5h1M346 229.5h1M359 229.5h1M362 229.5h1M334 230.5h1M360 230.5h1M336 231.5h1M338 231.5h1M352 231.5h1M342 232.5h1M353 232.5h1M337 233.5h1M358 233.5h1M365 233.5h1M366 233.5h1M368 233.5h1M338 234.5h1M344 234.5h1M348 234.5h1M338 235.5h1M349 235.5h1M369 236.5h1M348 237.5h1M350 237.5h1M359 237.5h1M334 238.5h1M344 238.5h1M346 238.5h1M364 238.5h1M344 239.5h1M352 239.5h1M359 240.5h1M342 241.5h1M344 241.5h1M348 241.5h1M349 241.5h1M349 242.5h1M356 242.5h1M364 242.5h1M365 242.5h1M351 243.5h1M353 244.5h1M371 244.5h1M339 245.5h1M365 245.5h1M340 246.5h1M357 246.5h1M363 246.5h1M346 247.5h1M350 247.5h1M333 248.5h1M333 249.5h1M342 250.5h1M345 250.5h1M364 250.5h1M347 251.5h1M347 252.5h1M349 252.5h1M360 252.5h1M346 254.5h1M347 254.5h1M362 254.5h1M363 254.5h1" stroke="#a8a8a8" stroke-width="1" shape-rendering="crispEdges"/>
<path d="M331.8 158.2H449.2" fill="none" stroke="#000" stroke-width="1.5"/><path d="M449.2 157.5V256.1" fill="none" stroke="#000" stroke-width="1.7"/><path d="M331.8 157.5V256.9" fill="none" stroke="#000" stroke-width="1.8"/><path d="M329.2 159.7h1.9M329.2 162.6h1.9M329.2 165.5h1.9M329.2 168.4h1.9M329.2 171.3h1.9M329.2 174.2h1.9M329.2 177.1h1.9M329.2 180.0h1.9M329.2 182.9h1.9M329.2 185.8h1.9M329.2 188.7h1.9M329.2 191.6h1.9M329.2 194.5h1.9M329.2 197.4h1.9M329.2 200.3h1.9M329.2 203.2h1.9M329.2 206.1h1.9M329.2 209.0h1.9M329.2 211.9h1.9M329.2 214.8h1.9M329.2 217.7h1.9M329.2 220.6h1.9M329.2 223.5h1.9M329.2 226.4h1.9M329.2 229.3h1.9M329.2 232.2h1.9M329.2 235.1h1.9M329.2 238.0h1.9M329.2 240.9h1.9M329.2 243.8h1.9M329.2 246.7h1.9M329.2 249.6h1.9M329.2 252.5h1.9M329.2 255.4h1.9" stroke="#000" stroke-width="1.8"/><path d="M331.8 255.5H449.2" fill="none" stroke="#000" stroke-width="1.2"/><path d="M331.8 256.9H448.2" fill="none" stroke="#000" stroke-width="2.2" stroke-dasharray="1.8 1.2 1.4 1.8 2.4 1 1 1.6"/><path d="M375.4 158.2V255.5" fill="none" stroke="#000" stroke-width="1.4"/><path d="M331.8 208.6H449.2" fill="none" stroke="#000" stroke-width="1.4"/>
<text x="334.5" y="171.6" font-size="12" font-weight="bold" font-family='"Liberation Sans", sans-serif' stroke="#000" stroke-width="0.45">41.4</text>
<text x="417.5" y="171.6" font-size="12" font-weight="bold" font-family='"Liberation Sans", sans-serif' stroke="#000" stroke-width="0.45">58.6</text>
<path d="M495 165h2M494 168h2M536 168h1M546 169h2M517 173h1M526 173h2M475 174h1M527 173h1M535 173h1M540 175h2M531 175h2M532 175h2M541 176h2M497 177h2M532 176h1M532 177h1M543 176h1M543 177h2M544 177h1M524 177h2M525 178h1M528 178h1M528 178h2M532 177h1M534 178h2M534 177h2M536 178h2M538 177h2M541 177h2M544 178h2M551 178h2M475 178h2M482 178h2M534 179h1M534 178h2M541 179h2M551 178h1M486 179h1M495 179h2M507 179h1M550 180h2M475 181h1M486 181h1M491 180h1M528 181h2M482 182h2M497 182h1M552 182h1M482 182h1M489 182h1M501 184h1M474 184h1M476 184h1M492 185h2M514 185h2M524 185h2M524 185h2M524 185h2M525 185h2M473 185h2M476 185h1M552 185h1M468 186h1M483 187h1M493 186h2M499 187h1M545 186h1M546 186h2M548 187h2M476 187h2M494 187h1M507 187h2M521 187h2M501 189h2M522 188h2M544 189h2M545 189h1M549 189h2M549 188h1M468 189h2M471 190h1M485 191h1M520 191h2M522 190h2M475 192h2M483 191h1M494 191h2M496 191h1M544 191h1M546 191h2M467 193h2M468 192h1M472 192h2M489 192h2M507 193h2M513 192h2M519 193h1M519 192h1M539 193h1M538 192h2M540 193h2M541 192h2M543 192h1M543 193h1M483 193h1M522 194h1M539 193h2M541 194h1M481 195h2M485 195h2M488 194h1M488 194h1M494 194h2M503 195h1M502 195h1M523 194h2M537 194h1M488 196h1M493 196h1M506 196h2M519 195h1M530 195h2M530 196h1M532 195h1M532 195h1M532 195h1M534 196h1M535 196h2M537 195h1M480 197h1M485 196h1M491 196h2M500 196h2M503 196h2M511 197h2M512 197h2M521 196h2M520 196h2M520 196h1M526 197h1M539 197h2M545 197h1M550 196h1M469 198h1M480 197h2M495 197h1M520 197h2M522 198h2M526 197h2M528 197h2M535 198h2M535 198h2M479 198h2M480 199h1M491 198h1M495 199h1M510 199h2M518 199h2M519 199h1M537 198h2M481 199h1M483 199h2M487 199h2M497 199h2M499 199h1M511 200h1M519 199h1M527 200h1M529 199h1M535 199h1M540 199h2M474 200h1M511 201h1M518 200h1M518 201h2M524 200h2M537 200h1M542 200h1M487 201h2M503 201h2M515 202h1M494 203h2M495 202h1M497 202h1M502 203h2M512 203h1M519 202h1M486 203h1M506 203h1M515 204h2M515 204h1M516 204h2M522 203h2M524 203h2M471 205h2M501 205h2M503 204h1M507 206h1M510 206h2M522 205h1M471 207h2M479 207h2M490 206h2M519 206h1M524 206h1M473 208h2M512 208h1M524 208h2M472 208h1M479 208h1M482 209h2M494 209h2M499 208h1M500 208h2M509 209h1M471 210h1M489 210h1M500 210h1M514 210h2M474 210h1M484 210h2M483 211h1M489 212h2M476 212h2M479 213h2M495 212h1M498 213h1M502 213h2M519 213h1M520 212h2M475 213h1M479 214h1M493 213h2M510 213h2M575 214h2M473 214h1M477 215h2M505 214h2M510 214h1M512 215h1M467 215h2M482 215h2M491 216h2M515 216h1M523 216h2M474 216h2M474 216h1M481 217h2M484 217h2M486 217h1M491 216h1M491 217h1M497 217h1M470 217h1M472 218h2M472 217h1M476 218h1M483 217h2M486 217h1M485 217h1M489 218h2M494 217h2M499 218h1M517 217h2M529 217h2M473 218h1M474 218h1M476 219h1M482 219h1M482 218h1M493 219h2M504 219h2M505 219h1M522 218h2M476 219h1M482 220h1M491 220h2M492 220h2M494 220h1M467 220h1M468 220h1M480 220h2M481 220h2M481 220h2M485 220h1M487 220h1M489 220h1M490 221h1M475 222h1M476 221h2M488 221h2M489 222h1M498 221h1M498 222h2M503 222h1M517 221h2M522 222h2M474 223h1M495 222h2M505 222h2M514 222h2M529 222h2M536 222h1M467 223h2M469 224h1M470 224h1M479 224h2M485 223h1M485 224h2M487 223h1M486 224h1M490 223h1M494 224h2M496 224h2M513 224h1M487 224h1M492 224h1M495 224h2M510 224h1M516 224h2M519 224h1M521 224h2M467 226h2M471 225h1M496 226h2M499 226h2M502 226h1M501 226h1M467 226h1M467 227h2M469 226h1M493 227h1M467 228h1M498 227h2M503 227h2M509 227h2M512 228h1M526 227h2M467 229h1M500 228h2M503 229h2M514 228h2M539 228h2M506 230h1M513 230h2M530 230h1M513 231h2M511 232h2M503 234h1M503 234h1M567 233h2M506 234h1M502 235h2M506 235h2M507 236h2M510 237h1M524 237h1M511 237h2M506 239h1M525 239h2M509 239h1M503 240h2M505 240h1M506 242h1M515 241h2M528 241h2M506 242h1M529 242h1M504 245h1M507 244h1M511 244h2M526 244h1M506 245h1M510 245h2M516 245h2M543 245h2M505 246h2M505 246h2M507 247h2M507 246h2M508 246h2M520 247h1M506 248h1M507 248h2M506 249h2M507 248h1M510 251h2M541 251h1M520 251h2M508 252h1M508 254h1M511 253h2" stroke="#000" stroke-width="2" shape-rendering="crispEdges"/>
<path d="M536 166.5h2M542 170.5h2M539 172.5h2M542 172.5h2M526 175.5h2M540 175.5h2M492 175.5h2M531 176.5h2M544 176.5h2M544 175.5h2M545 176.5h2M549 176.5h2M499 177.5h2M525 176.5h2M525 177.5h2M531 176.5h2M534 177.5h2M524 177.5h2M531 177.5h2M531 178.5h2M544 177.5h2M480 178.5h2M547 179.5h2M553 179.5h2M483 180.5h2M491 179.5h2M515 179.5h2M523 180.5h2M528 179.5h2M551 179.5h2M516 181.5h2M527 181.5h2M485 182.5h2M488 182.5h2M490 182.5h2M514 183.5h2M524 183.5h2M523 183.5h2M553 183.5h2M525 184.5h2M495 184.5h2M518 184.5h2M547 185.5h2M555 184.5h2M491 185.5h2M495 185.5h2M545 186.5h2M546 185.5h2M475 187.5h2M489 187.5h2M498 187.5h2M502 187.5h2M512 186.5h2M517 187.5h2M519 186.5h2M570 187.5h2M472 188.5h2M487 188.5h2M488 187.5h2M519 187.5h2M472 188.5h2M520 188.5h2M543 188.5h2M553 189.5h2M468 190.5h2M492 190.5h2M504 189.5h2M512 190.5h2M517 190.5h2M520 189.5h2M542 189.5h2M549 189.5h2M522 191.5h2M546 190.5h2M493 192.5h2M502 192.5h2M540 191.5h2M542 192.5h2M545 191.5h2M483 192.5h2M492 192.5h2M495 192.5h2M500 192.5h2M543 193.5h2M481 193.5h2M492 193.5h2M494 193.5h2M500 193.5h2M520 193.5h2M521 194.5h2M532 195.5h2M532 195.5h2M535 195.5h2M538 194.5h2M490 195.5h2M507 196.5h2M518 195.5h2M528 196.5h2M529 195.5h2M536 195.5h2M542 196.5h2M502 196.5h2M511 197.5h2M518 197.5h2M522 196.5h2M524 196.5h2M546 196.5h2M474 197.5h2M491 197.5h2M523 197.5h2M523 198.5h2M529 197.5h2M491 199.5h2M512 199.5h2M517 199.5h2M499 199.5h2M523 200.5h2M523 200.5h2M470 201.5h2M491 201.5h2M516 201.5h2M483 202.5h2M483 202.5h2M506 201.5h2M511 202.5h2M521 202.5h2M523 201.5h2M475 202.5h2M491 202.5h2M494 202.5h2M511 202.5h2M487 204.5h2M510 204.5h2M529 203.5h2M477 204.5h2M533 205.5h2M510 205.5h2M513 205.5h2M514 205.5h2M516 206.5h2M521 206.5h2M488 207.5h2M470 207.5h2M499 208.5h2M484 209.5h2M493 208.5h2M512 209.5h2M520 208.5h2M477 210.5h2M514 209.5h2M517 210.5h2M473 212.5h2M491 211.5h2M506 211.5h2M470 212.5h2M481 212.5h2M485 213.5h2M487 213.5h2M493 212.5h2M474 213.5h2M502 213.5h2M520 214.5h2M476 215.5h2M492 215.5h2M498 215.5h2M553 214.5h2M479 216.5h2M470 216.5h2M491 216.5h2M511 216.5h2M479 218.5h2M481 217.5h2M474 218.5h2M477 219.5h2M491 218.5h2M497 219.5h2M499 218.5h2M524 219.5h2M569 218.5h2M467 220.5h2M471 220.5h2M473 220.5h2M481 219.5h2M482 219.5h2M473 220.5h2M474 220.5h2M487 221.5h2M486 221.5h2M490 220.5h2M524 221.5h2M474 221.5h2M478 221.5h2M488 222.5h2M492 221.5h2M498 221.5h2M468 223.5h2M492 223.5h2M495 223.5h2M472 224.5h2M489 223.5h2M492 223.5h2M492 224.5h2M492 224.5h2M493 223.5h2M468 225.5h2M492 226.5h2M500 226.5h2M505 227.5h2M467 227.5h2M467 228.5h2M498 227.5h2M498 227.5h2M500 227.5h2M498 228.5h2M499 228.5h2M498 229.5h2M504 229.5h2M499 230.5h2M502 231.5h2M503 233.5h2M504 234.5h2M504 236.5h2M503 235.5h2M515 236.5h2M510 237.5h2M543 239.5h2M505 241.5h2M508 240.5h2M511 241.5h2M506 242.5h2M505 243.5h2M505 244.5h2M505 244.5h2M506 246.5h2M507 246.5h2M506 247.5h2M508 248.5h2M528 249.5h2M506 249.5h2M509 252.5h2M559 252.5h2M535 178.5h1M537 178.5h2M540 178.5h1M532 179.5h9M543 179.5h1M530 180.5h1M532 180.5h10M543 180.5h2M529 181.5h1M531 181.5h9M541 181.5h4M527 182.5h6M534 182.5h4M539 182.5h3M543 182.5h3M526 183.5h5M532 183.5h4M537 183.5h9M527 184.5h1M529 184.5h17M525 185.5h21M525 186.5h5M531 186.5h12M544 186.5h2M524 187.5h5M530 187.5h15M524 188.5h4M529 188.5h12M543 188.5h1M525 189.5h12M538 189.5h1M540 189.5h4M524 190.5h6M531 190.5h11M525 191.5h14M524 192.5h1M527 192.5h9M537 192.5h2M525 193.5h6M533 193.5h2M527 194.5h1M529 194.5h2M477 224.5h10M474 225.5h6M481 225.5h7M489 225.5h2M471 226.5h1M473 226.5h6M480 226.5h2M483 226.5h7M491 226.5h2M469 227.5h3M473 227.5h6M480 227.5h3M485 227.5h1M487 227.5h4M493 227.5h2M468 228.5h7M476 228.5h1M478 228.5h11M491 228.5h1M494 228.5h1M467 229.5h1M469 229.5h12M483 229.5h4M488 229.5h5M494 229.5h3M467 230.5h8M477 230.5h3M481 230.5h13M495 230.5h2M498 230.5h1M467 231.5h3M471 231.5h14M486 231.5h3M490 231.5h6M497 231.5h1M499 231.5h1M467 232.5h3M471 232.5h4M476 232.5h9M486 232.5h14M467 233.5h2M470 233.5h4M475 233.5h1M477 233.5h1M480 233.5h5M487 233.5h8M496 233.5h2M467 234.5h12M480 234.5h3M484 234.5h5M490 234.5h12M468 235.5h12M481 235.5h8M490 235.5h4M495 235.5h3M500 235.5h2M469 236.5h5M475 236.5h4M480 236.5h4M485 236.5h5M491 236.5h7M499 236.5h2M502 236.5h1M467 237.5h1M469 237.5h1M471 237.5h1M473 237.5h12M486 237.5h1M488 237.5h15M467 238.5h5M473 238.5h21M495 238.5h3M499 238.5h5M467 239.5h17M485 239.5h14M500 239.5h4M467 240.5h8M476 240.5h9M487 240.5h7M495 240.5h7M503 240.5h1M467 241.5h11M479 241.5h4M484 241.5h4M490 241.5h1M492 241.5h6M499 241.5h2M503 241.5h2M467 242.5h1M470 242.5h3M474 242.5h7M482 242.5h19M502 242.5h3M467 243.5h5M473 243.5h6M480 243.5h8M489 243.5h3M493 243.5h3M497 243.5h5M503 243.5h2M467 244.5h1M469 244.5h7M477 244.5h5M484 244.5h4M489 244.5h16M467 245.5h4M472 245.5h3M476 245.5h3M480 245.5h2M483 245.5h14M499 245.5h4M504 245.5h1M467 246.5h15M483 246.5h4M489 246.5h17M467 247.5h5M473 247.5h1M475 247.5h3M480 247.5h2M483 247.5h8M492 247.5h14M467 248.5h1M469 248.5h4M474 248.5h1M476 248.5h7M484 248.5h2M487 248.5h2M490 248.5h4M495 248.5h11M467 249.5h2M472 249.5h7M481 249.5h2M484 249.5h20M505 249.5h1M467 250.5h6M474 250.5h11M486 250.5h2M489 250.5h5M495 250.5h11M467 251.5h8M477 251.5h2M480 251.5h3M484 251.5h1M486 251.5h6M493 251.5h13M467 252.5h1M469 252.5h4M475 252.5h1M477 252.5h16M494 252.5h12M467 253.5h23M492 253.5h2M495 253.5h7M504 253.5h2M467 254.5h1M469 254.5h10M480 254.5h5M486 254.5h13M500 254.5h6" stroke="#000" stroke-width="1" shape-rendering="crispEdges"/>
<path d="M536 178.5h1M541 179.5h1M542 179.5h1M531 180.5h1M528 181.5h1M533 182.5h1M529 187.5h1M528 188.5h1M541 188.5h1M542 188.5h1M537 189.5h1M539 189.5h1M524 191.5h1M526 192.5h1M536 192.5h1M532 193.5h1M536 193.5h1M528 194.5h1M531 194.5h1M473 225.5h1M488 225.5h1M479 226.5h1M490 226.5h1M472 227.5h1M492 227.5h1M477 228.5h1M489 228.5h1M490 228.5h1M493 228.5h1M495 228.5h1M481 229.5h1M482 229.5h1M487 229.5h1M497 229.5h1M494 230.5h1M497 230.5h1M469 233.5h1M474 233.5h1M498 233.5h1M479 234.5h1M467 235.5h1M489 235.5h1M498 235.5h1M468 236.5h1M490 236.5h1M468 237.5h1M472 237.5h1M487 237.5h1M494 238.5h1M475 240.5h1M486 240.5h1M478 241.5h1M483 241.5h1M488 241.5h1M491 241.5h1M468 242.5h1M501 242.5h1M472 243.5h1M479 243.5h1M492 243.5h1M496 243.5h1M483 244.5h1M471 245.5h1M479 245.5h1M498 245.5h1M482 246.5h1M487 246.5h1M472 247.5h1M474 247.5h1M478 247.5h1M482 247.5h1M475 248.5h1M483 248.5h1M486 248.5h1M494 248.5h1M470 249.5h1M471 249.5h1M483 249.5h1M485 250.5h1M488 250.5h1M476 251.5h1M479 251.5h1M468 252.5h1M473 252.5h1M474 252.5h1M476 252.5h1M493 252.5h1M490 253.5h1M503 253.5h1M468 254.5h1M485 254.5h1M499 254.5h1" stroke="#6a6a6a" stroke-width="1" shape-rendering="crispEdges"/>
<path d="M539 178.5h1M542 180.5h1M530 181.5h1M540 181.5h1M545 181.5h1M538 182.5h1M542 182.5h1M531 183.5h1M536 183.5h1M526 184.5h1M528 184.5h1M530 186.5h1M543 186.5h1M524 189.5h1M530 190.5h1M539 191.5h1M540 191.5h1M525 192.5h1M531 193.5h1M535 193.5h1M532 194.5h1M487 224.5h1M480 225.5h1M472 226.5h1M482 226.5h1M479 227.5h1M483 227.5h1M484 227.5h1M486 227.5h1M491 227.5h1M475 228.5h1M492 228.5h1M496 228.5h1M468 229.5h1M493 229.5h1M475 230.5h1M476 230.5h1M480 230.5h1M470 231.5h1M485 231.5h1M489 231.5h1M496 231.5h1M498 231.5h1M470 232.5h1M475 232.5h1M485 232.5h1M476 233.5h1M478 233.5h1M479 233.5h1M485 233.5h1M486 233.5h1M495 233.5h1M499 233.5h1M500 233.5h1M483 234.5h1M489 234.5h1M480 235.5h1M494 235.5h1M499 235.5h1M467 236.5h1M474 236.5h1M479 236.5h1M484 236.5h1M498 236.5h1M501 236.5h1M470 237.5h1M485 237.5h1M472 238.5h1M498 238.5h1M484 239.5h1M499 239.5h1M485 240.5h1M494 240.5h1M502 240.5h1M489 241.5h1M498 241.5h1M501 241.5h1M502 241.5h1M469 242.5h1M473 242.5h1M481 242.5h1M488 243.5h1M502 243.5h1M468 244.5h1M476 244.5h1M482 244.5h1M488 244.5h1M475 245.5h1M482 245.5h1M497 245.5h1M503 245.5h1M488 246.5h1M479 247.5h1M491 247.5h1M468 248.5h1M473 248.5h1M489 248.5h1M469 249.5h1M479 249.5h1M480 249.5h1M504 249.5h1M473 250.5h1M494 250.5h1M475 251.5h1M483 251.5h1M485 251.5h1M492 251.5h1M491 253.5h1M494 253.5h1M502 253.5h1M479 254.5h1" stroke="#a8a8a8" stroke-width="1" shape-rendering="crispEdges"/>
<path d="M466 158.7H579.5" fill="none" stroke="#000" stroke-width="1.5"/><path d="M579.5 158.0V256.40000000000003" fill="none" stroke="#000" stroke-width="1.7"/><path d="M466 158.0V256.9" fill="none" stroke="#000" stroke-width="1.8"/><path d="M463.4 160.2h1.9M463.4 163.1h1.9M463.4 166.0h1.9M463.4 168.9h1.9M463.4 171.8h1.9M463.4 174.7h1.9M463.4 177.6h1.9M463.4 180.5h1.9M463.4 183.4h1.9M463.4 186.3h1.9M463.4 189.2h1.9M463.4 192.1h1.9M463.4 195.0h1.9M463.4 197.9h1.9M463.4 200.8h1.9M463.4 203.7h1.9M463.4 206.6h1.9M463.4 209.5h1.9M463.4 212.4h1.9M463.4 215.3h1.9M463.4 218.2h1.9M463.4 221.1h1.9M463.4 224.0h1.9M463.4 226.9h1.9M463.4 229.8h1.9M463.4 232.7h1.9M463.4 235.6h1.9M463.4 238.5h1.9M463.4 241.4h1.9M463.4 244.3h1.9M463.4 247.2h1.9M463.4 250.1h1.9M463.4 253.0h1.9" stroke="#000" stroke-width="1.8"/><path d="M466 255.8H579.5" fill="none" stroke="#000" stroke-width="1.2"/><path d="M466 256.9H578.5" fill="none" stroke="#000" stroke-width="2.2" stroke-dasharray="1.8 1.2 1.4 1.8 2.4 1 1 1.6"/><path d="M507.5 158.7V255.8" fill="none" stroke="#000" stroke-width="1.4"/><path d="M466 209.4H579.5" fill="none" stroke="#000" stroke-width="1.4"/>
<text x="468.2" y="171.5" font-size="12" font-weight="bold" font-family='"Liberation Sans", sans-serif' stroke="#000" stroke-width="0.45">21.7</text>
<text x="551.5" y="171.5" font-size="12" font-weight="bold" font-family='"Liberation Sans", sans-serif' stroke="#000" stroke-width="0.45">78.3</text>
<text x="10.1" y="30.6" font-size="30" font-weight="bold" textLength="15.4" lengthAdjust="spacingAndGlyphs" font-family='"Liberation Serif", serif'>a</text>
<text x="88.6" y="28.9" font-size="15.3" textLength="102.5" lengthAdjust="spacing" font-family='"Liberation Sans", sans-serif' stroke="#000" stroke-width="0.28">Mock-infected</text>
<text x="227.6" y="28.9" font-size="15.3" textLength="60.5" lengthAdjust="spacing" font-family='"Liberation Sans", sans-serif' stroke="#000" stroke-width="0.28">Infected</text>
<text x="332.9" y="28.9" font-size="15.3" textLength="104" lengthAdjust="spacing" font-family='"Liberation Sans", sans-serif' stroke="#000" stroke-width="0.28">Mock-infected</text>
<text x="487.9" y="28.9" font-size="15.3" textLength="61.5" lengthAdjust="spacing" font-family='"Liberation Sans", sans-serif' stroke="#000" stroke-width="0.28">Infected</text>
<text x="14.0" y="94.5" font-size="19.5" textLength="45.3" lengthAdjust="spacingAndGlyphs" font-family='"Liberation Sans", sans-serif' stroke="#000" stroke-width="0.2">Liver</text>
<text x="6.0" y="210.6" font-size="19.5" textLength="61" lengthAdjust="spacingAndGlyphs" font-family='"Liberation Sans", sans-serif' stroke="#000" stroke-width="0.2">Spleen</text>
<path d="M70.5 66V117.5M70.6 172.8V230" stroke="#000" stroke-width="2.2" fill="none"/>
<path d="M70.5 53.5L75.8 67.5H65.2Z" fill="#000"/>
<text transform="translate(73.1 167.8) rotate(-90)" font-size="15" font-family='"Liberation Sans", sans-serif' textLength="41.8" lengthAdjust="spacing" stroke="#000" stroke-width="0.28">NK1.1</text>
<path d="M90 271.5H167.3M236.7 271.5H292M342.4 271.5H415.7M481 271.5H564" stroke="#000" stroke-width="2" fill="none"/>
<path d="M304.5 271.5L290 266.5V276.5Z M576 271.5L562 266.5V276.5Z" fill="#000"/>
<text x="172" y="275.8" font-size="16" textLength="48.5" lengthAdjust="spacingAndGlyphs" font-family='"Liberation Sans", sans-serif' stroke="#000" stroke-width="0.2">Ly49D</text>
<text x="422" y="275.8" font-size="16" textLength="51.5" lengthAdjust="spacingAndGlyphs" font-family='"Liberation Sans", sans-serif' stroke="#000" stroke-width="0.2">Ly49H</text>
<text x="11.3" y="332.2" font-size="27.5" font-weight="bold" font-family='"Liberation Sans", sans-serif'>b</text>
<path d="M77 318V545H250V318Z" fill="none" stroke="#000" stroke-width="1.3"/><path d="M74.2 545.0H77M74.2 488.4H77M74.2 431.7H77M74.2 375.1H77M74.2 318.4H77M99.2 545V548M142.6 545V548M185.5 545V548M228.5 545V548" stroke="#000" stroke-width="1.1" fill="none"/>
<text x="70.8" y="549.8" font-size="9.5" font-weight="bold" text-anchor="end" font-family='"Liberation Sans", sans-serif'>0</text>
<text x="70.8" y="493.2" font-size="9.5" font-weight="bold" text-anchor="end" font-family='"Liberation Sans", sans-serif'>5</text>
<text x="70.8" y="436.5" font-size="9.5" font-weight="bold" text-anchor="end" font-family='"Liberation Sans", sans-serif'>10</text>
<text x="70.8" y="379.9" font-size="9.5" font-weight="bold" text-anchor="end" font-family='"Liberation Sans", sans-serif'>15</text>
<text x="70.8" y="323.2" font-size="9.5" font-weight="bold" text-anchor="end" font-family='"Liberation Sans", sans-serif'>20</text>
<text x="99.2" y="559.3" font-size="9.5" font-weight="bold" text-anchor="middle" font-family='"Liberation Sans", sans-serif'>0</text>
<text x="142.6" y="559.3" font-size="9.5" font-weight="bold" text-anchor="middle" font-family='"Liberation Sans", sans-serif'>2</text>
<text x="185.5" y="559.3" font-size="9.5" font-weight="bold" text-anchor="middle" font-family='"Liberation Sans", sans-serif'>4</text>
<text x="228.5" y="559.3" font-size="9.5" font-weight="bold" text-anchor="middle" font-family='"Liberation Sans", sans-serif'>6</text>
<text x="83.3" y="336" font-size="14" font-weight="bold" font-family='"Liberation Sans", sans-serif'>Liver</text>
<path d="M99.2 519V530.8M97.0 519H101.4M97.0 530.8H101.4" stroke="#222" stroke-width="0.90" fill="none"/>
<path d="M185.5 455.8V520M183.3 470.8H187.7M183.3 485H187.7M183.3 510H187.7M183.3 520H187.7" stroke="#222" stroke-width="1.80" fill="none"/>
<path d="M228.5 328.4V413.6M226.3 328.4H230.7M226.3 373H230.7M226.3 375.6H230.7M226.3 413.6H230.7" stroke="#222" stroke-width="0.90" fill="none"/>
<polyline points="99.2,536.5 142.6,534.8 185.5,504.2 228.5,504.2" fill="none" stroke="#000" stroke-width="1.1" stroke-dasharray="5 3"/>
<polyline points="99.2,535.9 142.6,532.5 185.5,491.2 228.5,394.3" fill="none" stroke="#000" stroke-width="1.1" />
<polyline points="99.2,526.0 142.6,521.7 185.5,451.0 228.5,352.4" fill="none" stroke="#000" stroke-width="1.1" stroke-dasharray="2.2 2.6"/>
<path d="M99.2 533.5l3 3l-3 3l-3 -3z" fill="#000"/>
<path d="M142.6 531.8l3 3l-3 3l-3 -3z" fill="#000"/>
<path d="M185.5 501.2l3 3l-3 3l-3 -3z" fill="#000"/>
<path d="M228.5 501.2l3 3l-3 3l-3 -3z" fill="#000"/>
<rect x="96.9" y="533.6" width="4.6" height="4.6" fill="#000"/>
<rect x="140.29999999999998" y="530.2" width="4.6" height="4.6" fill="#000"/>
<rect x="183.2" y="488.9" width="4.6" height="4.6" fill="#000"/>
<rect x="226.2" y="392.0" width="4.6" height="4.6" fill="#000"/>
<circle cx="99.2" cy="526.0" r="3.3" fill="#fff" stroke="#000" stroke-width="1.1"/>
<circle cx="142.6" cy="521.7" r="3.3" fill="#fff" stroke="#000" stroke-width="1.1"/>
<circle cx="185.5" cy="451.0" r="3.3" fill="#fff" stroke="#000" stroke-width="1.1"/>
<circle cx="228.5" cy="352.4" r="3.3" fill="#fff" stroke="#000" stroke-width="1.1"/>
<path d="M276 317.5V545H450.5V317.5Z" fill="none" stroke="#000" stroke-width="1.3"/><path d="M273.2 545.0H276M273.2 488.1H276M273.2 431.2H276M273.2 374.3H276M273.2 317.4H276M298.3 545V548M341.6 545V548M384.5 545V548M428 545V548" stroke="#000" stroke-width="1.1" fill="none"/>
<text x="269.8" y="549.8" font-size="9.5" font-weight="bold" text-anchor="end" font-family='"Liberation Sans", sans-serif'>0</text>
<text x="269.8" y="492.9" font-size="9.5" font-weight="bold" text-anchor="end" font-family='"Liberation Sans", sans-serif'>10</text>
<text x="269.8" y="436.0" font-size="9.5" font-weight="bold" text-anchor="end" font-family='"Liberation Sans", sans-serif'>20</text>
<text x="269.8" y="379.1" font-size="9.5" font-weight="bold" text-anchor="end" font-family='"Liberation Sans", sans-serif'>30</text>
<text x="269.8" y="322.2" font-size="9.5" font-weight="bold" text-anchor="end" font-family='"Liberation Sans", sans-serif'>40</text>
<text x="298.3" y="559.3" font-size="9.5" font-weight="bold" text-anchor="middle" font-family='"Liberation Sans", sans-serif'>0</text>
<text x="341.6" y="559.3" font-size="9.5" font-weight="bold" text-anchor="middle" font-family='"Liberation Sans", sans-serif'>2</text>
<text x="384.5" y="559.3" font-size="9.5" font-weight="bold" text-anchor="middle" font-family='"Liberation Sans", sans-serif'>4</text>
<text x="428" y="559.3" font-size="9.5" font-weight="bold" text-anchor="middle" font-family='"Liberation Sans", sans-serif'>6</text>
<text x="282.3" y="336" font-size="14" font-weight="bold" font-family='"Liberation Sans", sans-serif'>Spleen</text>
<path d="M298.3 393.6V439.5M296.1 393.6H300.5M296.1 439.5H300.5" stroke="#222" stroke-width="0.90" fill="none"/>
<path d="M298.3 454.2V480.6M296.1 454.2H300.5M296.1 480.6H300.5" stroke="#222" stroke-width="0.90" fill="none"/>
<path d="M298.3 485.4V502.4M296.1 485.4H300.5M296.1 502.4H300.5" stroke="#222" stroke-width="0.90" fill="none"/>
<path d="M341.6 509V518M339.40000000000003 509H343.8M339.40000000000003 518H343.8" stroke="#222" stroke-width="0.90" fill="none"/>
<path d="M384.5 389.8V500.8M382.3 389.8H386.7M382.3 444.8H386.7M382.3 492H386.7M382.3 500.8H386.7" stroke="#222" stroke-width="1.17" fill="none"/>
<path d="M428 370.2V380M425.8 370.2H430.2M425.8 380H430.2" stroke="#222" stroke-width="0.90" fill="none"/>
<path d="M428 490V499M425.8 490H430.2M425.8 499H430.2" stroke="#222" stroke-width="0.90" fill="none"/>
<polyline points="298.3,494.0 341.6,532.5 384.5,496.1 428,494.9" fill="none" stroke="#000" stroke-width="1.1" stroke-dasharray="5 3"/>
<polyline points="298.3,468.8 341.6,526.5 384.5,466.5 428,376.6" fill="none" stroke="#000" stroke-width="1.1" />
<polyline points="298.3,417.5 341.6,514.0 384.5,418.7 428,325.9" fill="none" stroke="#000" stroke-width="1.1" stroke-dasharray="2.2 2.6"/>
<path d="M298.3 491.0l3 3l-3 3l-3 -3z" fill="#000"/>
<path d="M341.6 529.5l3 3l-3 3l-3 -3z" fill="#000"/>
<path d="M384.5 493.1l3 3l-3 3l-3 -3z" fill="#000"/>
<path d="M428 491.9l3 3l-3 3l-3 -3z" fill="#000"/>
<rect x="296.0" y="466.5" width="4.6" height="4.6" fill="#000"/>
<rect x="339.3" y="524.2" width="4.6" height="4.6" fill="#000"/>
<rect x="382.2" y="464.2" width="4.6" height="4.6" fill="#000"/>
<rect x="425.7" y="374.3" width="4.6" height="4.6" fill="#000"/>
<circle cx="298.3" cy="417.5" r="3.3" fill="#fff" stroke="#000" stroke-width="1.1"/>
<circle cx="341.6" cy="514.0" r="3.3" fill="#fff" stroke="#000" stroke-width="1.1"/>
<circle cx="384.5" cy="418.7" r="3.3" fill="#fff" stroke="#000" stroke-width="1.1"/>
<circle cx="428" cy="325.9" r="3.3" fill="#fff" stroke="#000" stroke-width="1.1"/>
<path d="M86.5 352.5H117" stroke="#000" stroke-width="1.1" stroke-dasharray="2.6 3.4"/>
<circle cx="101.6" cy="352.4" r="3.3" fill="#fff" stroke="#000" stroke-width="1.1"/>
<path d="M87 366.5H117.5" stroke="#000" stroke-width="1.1"/>
<rect x="99.7" y="364.2" width="4.6" height="4.6" fill="#000"/>
<path d="M87.5 381.5H117" stroke="#000" stroke-width="1.1" stroke-dasharray="4 3"/>
<path d="M101.3 378.5l3 3l-3 3l-3 -3z" fill="#000"/>
<text x="126" y="355.6" font-size="9" font-weight="bold" textLength="60" lengthAdjust="spacingAndGlyphs" font-family='"Liberation Sans", sans-serif'>Bulk NK cells</text>
<text x="126" y="369.6" font-size="9" font-weight="bold" font-family='"Liberation Sans", sans-serif'>Ly49H<tspan font-size="6" dy="-3.5">+</tspan></text>
<text x="126" y="384.6" font-size="9" font-weight="bold" font-family='"Liberation Sans", sans-serif'>Ly49H<tspan font-size="6" dy="-3.5">&#8211;</tspan></text>
<text transform="translate(56 508.5) rotate(-90)" font-size="14.2" font-weight="bold" font-family='"Liberation Sans", sans-serif'>NK cell number (x10<tspan font-size="8.5" dy="-4.2">&#8211;5</tspan><tspan dy="4.2">)</tspan></text>
<text x="190.5" y="580" font-size="14" font-weight="bold" textLength="130.5" lengthAdjust="spacingAndGlyphs" font-family='"Liberation Sans", sans-serif'>Days after infection</text>
</svg></body></html>
